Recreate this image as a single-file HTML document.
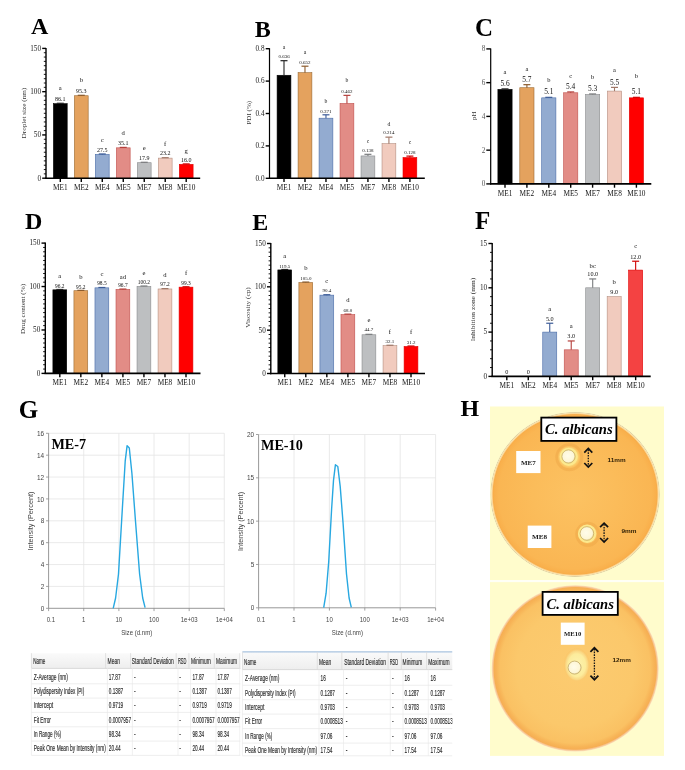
<!DOCTYPE html><html><head><meta charset="utf-8"><style>html,body{margin:0;padding:0;background:#fff;}svg{display:block;filter:blur(0.3px);}</style></head><body>
<svg width="685" height="770" viewBox="0 0 685 770">
<rect width="685" height="770" fill="#fff"/>
<text x="31.00" y="33.80" font-size="24" text-anchor="start" font-family='"Liberation Serif", serif' fill="#000" font-weight="bold">A</text>
<text x="254.80" y="36.50" font-size="24" text-anchor="start" font-family='"Liberation Serif", serif' fill="#000" font-weight="bold">B</text>
<text x="475.00" y="35.60" font-size="25" text-anchor="start" font-family='"Liberation Serif", serif' fill="#000" font-weight="bold">C</text>
<text x="25.00" y="229.20" font-size="24" text-anchor="start" font-family='"Liberation Serif", serif' fill="#000" font-weight="bold">D</text>
<text x="252.20" y="229.60" font-size="24" text-anchor="start" font-family='"Liberation Serif", serif' fill="#000" font-weight="bold">E</text>
<text x="475.00" y="229.30" font-size="25" text-anchor="start" font-family='"Liberation Serif", serif' fill="#000" font-weight="bold">F</text>
<text x="18.80" y="417.70" font-size="25" text-anchor="start" font-family='"Liberation Serif", serif' fill="#000" font-weight="bold">G</text>
<text x="460.40" y="415.90" font-size="24" text-anchor="start" font-family='"Liberation Serif", serif' fill="#000" font-weight="bold">H</text>
<rect x="53.40" y="103.69" width="13.80" height="74.51" fill="#000000" stroke="#000000" stroke-width="0.6"/>
<rect x="74.38" y="95.73" width="13.80" height="82.47" fill="#E4A25E" stroke="#9A6A33" stroke-width="0.6"/>
<rect x="95.37" y="154.40" width="13.80" height="23.80" fill="#93ABD0" stroke="#4A6CA8" stroke-width="0.6"/>
<rect x="116.35" y="147.83" width="13.80" height="30.37" fill="#E28C86" stroke="#C0504D" stroke-width="0.6"/>
<rect x="137.33" y="162.71" width="13.80" height="15.49" fill="#BDBFC1" stroke="#8A8C8E" stroke-width="0.6"/>
<rect x="158.32" y="158.12" width="13.80" height="20.08" fill="#F1CBBE" stroke="#B58F80" stroke-width="0.6"/>
<rect x="179.30" y="164.35" width="13.80" height="13.85" fill="#FF0000" stroke="#E00000" stroke-width="0.6"/>
<line x1="60.30" y1="103.69" x2="60.30" y2="103.26" stroke="#222222" stroke-width="1.1"/>
<line x1="56.80" y1="103.26" x2="63.80" y2="103.26" stroke="#222222" stroke-width="1.2"/>
<line x1="81.28" y1="95.73" x2="81.28" y2="95.30" stroke="#8B5A2B" stroke-width="1.1"/>
<line x1="77.78" y1="95.30" x2="84.78" y2="95.30" stroke="#8B5A2B" stroke-width="1.2"/>
<line x1="102.27" y1="154.40" x2="102.27" y2="153.97" stroke="#3B5B98" stroke-width="1.1"/>
<line x1="98.77" y1="153.97" x2="105.77" y2="153.97" stroke="#3B5B98" stroke-width="1.2"/>
<line x1="123.25" y1="147.83" x2="123.25" y2="147.39" stroke="#B5403C" stroke-width="1.1"/>
<line x1="119.75" y1="147.39" x2="126.75" y2="147.39" stroke="#B5403C" stroke-width="1.2"/>
<line x1="144.23" y1="162.71" x2="144.23" y2="162.28" stroke="#7A7C7E" stroke-width="1.1"/>
<line x1="140.73" y1="162.28" x2="147.73" y2="162.28" stroke="#7A7C7E" stroke-width="1.2"/>
<line x1="165.22" y1="158.12" x2="165.22" y2="157.69" stroke="#A07868" stroke-width="1.1"/>
<line x1="161.72" y1="157.69" x2="168.72" y2="157.69" stroke="#A07868" stroke-width="1.2"/>
<line x1="186.20" y1="164.35" x2="186.20" y2="163.92" stroke="#D00000" stroke-width="1.1"/>
<line x1="182.70" y1="163.92" x2="189.70" y2="163.92" stroke="#D00000" stroke-width="1.2"/>
<line x1="46.00" y1="47.90" x2="46.00" y2="178.90" stroke="#000" stroke-width="1.4"/>
<line x1="45.30" y1="178.20" x2="200.20" y2="178.20" stroke="#000" stroke-width="1.6"/>
<line x1="42.20" y1="178.20" x2="46.00" y2="178.20" stroke="#000" stroke-width="1.4"/>
<text x="41.00" y="180.58" font-size="7.2" text-anchor="end" font-family='"Liberation Serif", serif' fill="#222">0</text>
<line x1="42.20" y1="134.93" x2="46.00" y2="134.93" stroke="#000" stroke-width="1.4"/>
<text x="41.00" y="137.31" font-size="7.2" text-anchor="end" font-family='"Liberation Serif", serif' fill="#222">50</text>
<line x1="42.20" y1="91.67" x2="46.00" y2="91.67" stroke="#000" stroke-width="1.4"/>
<text x="41.00" y="94.04" font-size="7.2" text-anchor="end" font-family='"Liberation Serif", serif' fill="#222">100</text>
<line x1="42.20" y1="48.40" x2="46.00" y2="48.40" stroke="#000" stroke-width="1.4"/>
<text x="41.00" y="50.78" font-size="7.2" text-anchor="end" font-family='"Liberation Serif", serif' fill="#222">150</text>
<line x1="43.80" y1="173.87" x2="46.00" y2="173.87" stroke="#000" stroke-width="0.9"/>
<line x1="43.80" y1="169.55" x2="46.00" y2="169.55" stroke="#000" stroke-width="0.9"/>
<line x1="43.80" y1="165.22" x2="46.00" y2="165.22" stroke="#000" stroke-width="0.9"/>
<line x1="43.80" y1="160.89" x2="46.00" y2="160.89" stroke="#000" stroke-width="0.9"/>
<line x1="43.80" y1="156.57" x2="46.00" y2="156.57" stroke="#000" stroke-width="0.9"/>
<line x1="43.80" y1="152.24" x2="46.00" y2="152.24" stroke="#000" stroke-width="0.9"/>
<line x1="43.80" y1="147.91" x2="46.00" y2="147.91" stroke="#000" stroke-width="0.9"/>
<line x1="43.80" y1="143.59" x2="46.00" y2="143.59" stroke="#000" stroke-width="0.9"/>
<line x1="43.80" y1="139.26" x2="46.00" y2="139.26" stroke="#000" stroke-width="0.9"/>
<line x1="43.80" y1="130.61" x2="46.00" y2="130.61" stroke="#000" stroke-width="0.9"/>
<line x1="43.80" y1="126.28" x2="46.00" y2="126.28" stroke="#000" stroke-width="0.9"/>
<line x1="43.80" y1="121.95" x2="46.00" y2="121.95" stroke="#000" stroke-width="0.9"/>
<line x1="43.80" y1="117.63" x2="46.00" y2="117.63" stroke="#000" stroke-width="0.9"/>
<line x1="43.80" y1="113.30" x2="46.00" y2="113.30" stroke="#000" stroke-width="0.9"/>
<line x1="43.80" y1="108.97" x2="46.00" y2="108.97" stroke="#000" stroke-width="0.9"/>
<line x1="43.80" y1="104.65" x2="46.00" y2="104.65" stroke="#000" stroke-width="0.9"/>
<line x1="43.80" y1="100.32" x2="46.00" y2="100.32" stroke="#000" stroke-width="0.9"/>
<line x1="43.80" y1="95.99" x2="46.00" y2="95.99" stroke="#000" stroke-width="0.9"/>
<line x1="43.80" y1="87.34" x2="46.00" y2="87.34" stroke="#000" stroke-width="0.9"/>
<line x1="43.80" y1="83.01" x2="46.00" y2="83.01" stroke="#000" stroke-width="0.9"/>
<line x1="43.80" y1="78.69" x2="46.00" y2="78.69" stroke="#000" stroke-width="0.9"/>
<line x1="43.80" y1="74.36" x2="46.00" y2="74.36" stroke="#000" stroke-width="0.9"/>
<line x1="43.80" y1="70.03" x2="46.00" y2="70.03" stroke="#000" stroke-width="0.9"/>
<line x1="43.80" y1="65.71" x2="46.00" y2="65.71" stroke="#000" stroke-width="0.9"/>
<line x1="43.80" y1="61.38" x2="46.00" y2="61.38" stroke="#000" stroke-width="0.9"/>
<line x1="43.80" y1="57.05" x2="46.00" y2="57.05" stroke="#000" stroke-width="0.9"/>
<line x1="43.80" y1="52.73" x2="46.00" y2="52.73" stroke="#000" stroke-width="0.9"/>
<line x1="60.30" y1="178.20" x2="60.30" y2="182.00" stroke="#000" stroke-width="1.4"/>
<text x="60.30" y="190.00" font-size="7.3" text-anchor="middle" font-family='"Liberation Serif", serif' fill="#111">ME1</text>
<line x1="81.28" y1="178.20" x2="81.28" y2="182.00" stroke="#000" stroke-width="1.4"/>
<text x="81.28" y="190.00" font-size="7.3" text-anchor="middle" font-family='"Liberation Serif", serif' fill="#111">ME2</text>
<line x1="102.27" y1="178.20" x2="102.27" y2="182.00" stroke="#000" stroke-width="1.4"/>
<text x="102.27" y="190.00" font-size="7.3" text-anchor="middle" font-family='"Liberation Serif", serif' fill="#111">ME4</text>
<line x1="123.25" y1="178.20" x2="123.25" y2="182.00" stroke="#000" stroke-width="1.4"/>
<text x="123.25" y="190.00" font-size="7.3" text-anchor="middle" font-family='"Liberation Serif", serif' fill="#111">ME5</text>
<line x1="144.23" y1="178.20" x2="144.23" y2="182.00" stroke="#000" stroke-width="1.4"/>
<text x="144.23" y="190.00" font-size="7.3" text-anchor="middle" font-family='"Liberation Serif", serif' fill="#111">ME7</text>
<line x1="165.22" y1="178.20" x2="165.22" y2="182.00" stroke="#000" stroke-width="1.4"/>
<text x="165.22" y="190.00" font-size="7.3" text-anchor="middle" font-family='"Liberation Serif", serif' fill="#111">ME8</text>
<line x1="186.20" y1="178.20" x2="186.20" y2="182.00" stroke="#000" stroke-width="1.4"/>
<text x="186.20" y="190.00" font-size="7.3" text-anchor="middle" font-family='"Liberation Serif", serif' fill="#111">ME10</text>
<text x="60.30" y="101.24" font-size="6.0" text-anchor="middle" font-family='"Liberation Serif", serif' fill="#111">86.1</text>
<text x="60.30" y="90.05" font-size="6.6" text-anchor="middle" font-family='"Liberation Serif", serif' fill="#111">a</text>
<text x="81.28" y="92.84" font-size="6.0" text-anchor="middle" font-family='"Liberation Serif", serif' fill="#111">95.3</text>
<text x="81.28" y="81.95" font-size="6.6" text-anchor="middle" font-family='"Liberation Serif", serif' fill="#111">b</text>
<text x="102.27" y="151.94" font-size="6.0" text-anchor="middle" font-family='"Liberation Serif", serif' fill="#111">27.5</text>
<text x="102.27" y="142.15" font-size="6.6" text-anchor="middle" font-family='"Liberation Serif", serif' fill="#111">c</text>
<text x="123.25" y="144.94" font-size="6.0" text-anchor="middle" font-family='"Liberation Serif", serif' fill="#111">35.1</text>
<text x="123.25" y="134.65" font-size="6.6" text-anchor="middle" font-family='"Liberation Serif", serif' fill="#111">d</text>
<text x="144.23" y="160.04" font-size="6.0" text-anchor="middle" font-family='"Liberation Serif", serif' fill="#111">17.9</text>
<text x="144.23" y="150.05" font-size="6.6" text-anchor="middle" font-family='"Liberation Serif", serif' fill="#111">e</text>
<text x="165.22" y="155.24" font-size="6.0" text-anchor="middle" font-family='"Liberation Serif", serif' fill="#111">23.2</text>
<text x="165.22" y="146.05" font-size="6.6" text-anchor="middle" font-family='"Liberation Serif", serif' fill="#111">f</text>
<text x="186.20" y="161.84" font-size="6.0" text-anchor="middle" font-family='"Liberation Serif", serif' fill="#111">16.0</text>
<text x="186.20" y="152.65" font-size="6.6" text-anchor="middle" font-family='"Liberation Serif", serif' fill="#111">g</text>
<text transform="translate(24.00,113.10) rotate(-90)" x="0" y="2.10" font-size="7.0" text-anchor="middle" font-family='"Liberation Serif", serif' fill="#333" textLength="50.6" lengthAdjust="spacingAndGlyphs">Droplet size (nm)</text>
<rect x="277.10" y="75.27" width="13.80" height="103.03" fill="#000000" stroke="#000000" stroke-width="0.6"/>
<rect x="298.08" y="72.68" width="13.80" height="105.62" fill="#E4A25E" stroke="#9A6A33" stroke-width="0.6"/>
<rect x="319.07" y="118.20" width="13.80" height="60.10" fill="#93ABD0" stroke="#4A6CA8" stroke-width="0.6"/>
<rect x="340.05" y="103.46" width="13.80" height="74.84" fill="#E28C86" stroke="#C0504D" stroke-width="0.6"/>
<rect x="361.03" y="155.94" width="13.80" height="22.36" fill="#BDBFC1" stroke="#8A8C8E" stroke-width="0.6"/>
<rect x="382.02" y="143.63" width="13.80" height="34.67" fill="#F1CBBE" stroke="#B58F80" stroke-width="0.6"/>
<rect x="403.00" y="157.56" width="13.80" height="20.74" fill="#FF0000" stroke="#E00000" stroke-width="0.6"/>
<line x1="284.00" y1="75.27" x2="284.00" y2="60.69" stroke="#222222" stroke-width="1.1"/>
<line x1="280.50" y1="60.69" x2="287.50" y2="60.69" stroke="#222222" stroke-width="1.2"/>
<line x1="304.98" y1="72.68" x2="304.98" y2="66.20" stroke="#8B5A2B" stroke-width="1.1"/>
<line x1="301.48" y1="66.20" x2="308.48" y2="66.20" stroke="#8B5A2B" stroke-width="1.2"/>
<line x1="325.97" y1="118.20" x2="325.97" y2="114.80" stroke="#3B5B98" stroke-width="1.1"/>
<line x1="322.47" y1="114.80" x2="329.47" y2="114.80" stroke="#3B5B98" stroke-width="1.2"/>
<line x1="346.95" y1="103.46" x2="346.95" y2="95.36" stroke="#B5403C" stroke-width="1.1"/>
<line x1="343.45" y1="95.36" x2="350.45" y2="95.36" stroke="#B5403C" stroke-width="1.2"/>
<line x1="367.93" y1="155.94" x2="367.93" y2="154.32" stroke="#7A7C7E" stroke-width="1.1"/>
<line x1="364.43" y1="154.32" x2="371.43" y2="154.32" stroke="#7A7C7E" stroke-width="1.2"/>
<line x1="388.92" y1="143.63" x2="388.92" y2="137.15" stroke="#A07868" stroke-width="1.1"/>
<line x1="385.42" y1="137.15" x2="392.42" y2="137.15" stroke="#A07868" stroke-width="1.2"/>
<line x1="409.90" y1="157.56" x2="409.90" y2="156.11" stroke="#D00000" stroke-width="1.1"/>
<line x1="406.40" y1="156.11" x2="413.40" y2="156.11" stroke="#D00000" stroke-width="1.2"/>
<line x1="269.50" y1="48.20" x2="269.50" y2="178.90" stroke="#000" stroke-width="1.2"/>
<line x1="268.90" y1="178.30" x2="424.80" y2="178.30" stroke="#000" stroke-width="1.6"/>
<line x1="265.70" y1="178.30" x2="269.50" y2="178.30" stroke="#000" stroke-width="1.4"/>
<text x="264.50" y="180.68" font-size="7.2" text-anchor="end" font-family='"Liberation Serif", serif' fill="#222">0.0</text>
<line x1="265.70" y1="145.90" x2="269.50" y2="145.90" stroke="#000" stroke-width="1.4"/>
<text x="264.50" y="148.28" font-size="7.2" text-anchor="end" font-family='"Liberation Serif", serif' fill="#222">0.2</text>
<line x1="265.70" y1="113.50" x2="269.50" y2="113.50" stroke="#000" stroke-width="1.4"/>
<text x="264.50" y="115.88" font-size="7.2" text-anchor="end" font-family='"Liberation Serif", serif' fill="#222">0.4</text>
<line x1="265.70" y1="81.10" x2="269.50" y2="81.10" stroke="#000" stroke-width="1.4"/>
<text x="264.50" y="83.48" font-size="7.2" text-anchor="end" font-family='"Liberation Serif", serif' fill="#222">0.6</text>
<line x1="265.70" y1="48.70" x2="269.50" y2="48.70" stroke="#000" stroke-width="1.4"/>
<text x="264.50" y="51.08" font-size="7.2" text-anchor="end" font-family='"Liberation Serif", serif' fill="#222">0.8</text>
<line x1="284.00" y1="178.30" x2="284.00" y2="182.10" stroke="#000" stroke-width="1.4"/>
<text x="284.00" y="190.00" font-size="7.3" text-anchor="middle" font-family='"Liberation Serif", serif' fill="#111">ME1</text>
<line x1="304.98" y1="178.30" x2="304.98" y2="182.10" stroke="#000" stroke-width="1.4"/>
<text x="304.98" y="190.00" font-size="7.3" text-anchor="middle" font-family='"Liberation Serif", serif' fill="#111">ME2</text>
<line x1="325.97" y1="178.30" x2="325.97" y2="182.10" stroke="#000" stroke-width="1.4"/>
<text x="325.97" y="190.00" font-size="7.3" text-anchor="middle" font-family='"Liberation Serif", serif' fill="#111">ME4</text>
<line x1="346.95" y1="178.30" x2="346.95" y2="182.10" stroke="#000" stroke-width="1.4"/>
<text x="346.95" y="190.00" font-size="7.3" text-anchor="middle" font-family='"Liberation Serif", serif' fill="#111">ME5</text>
<line x1="367.93" y1="178.30" x2="367.93" y2="182.10" stroke="#000" stroke-width="1.4"/>
<text x="367.93" y="190.00" font-size="7.3" text-anchor="middle" font-family='"Liberation Serif", serif' fill="#111">ME7</text>
<line x1="388.92" y1="178.30" x2="388.92" y2="182.10" stroke="#000" stroke-width="1.4"/>
<text x="388.92" y="190.00" font-size="7.3" text-anchor="middle" font-family='"Liberation Serif", serif' fill="#111">ME8</text>
<line x1="409.90" y1="178.30" x2="409.90" y2="182.10" stroke="#000" stroke-width="1.4"/>
<text x="409.90" y="190.00" font-size="7.3" text-anchor="middle" font-family='"Liberation Serif", serif' fill="#111">ME10</text>
<text x="284.00" y="58.10" font-size="5.0" text-anchor="middle" font-family='"Liberation Serif", serif' fill="#111">0.636</text>
<text x="284.00" y="48.60" font-size="5.6" text-anchor="middle" font-family='"Liberation Serif", serif' fill="#111">a</text>
<text x="304.98" y="63.70" font-size="5.0" text-anchor="middle" font-family='"Liberation Serif", serif' fill="#111">0.652</text>
<text x="304.98" y="53.90" font-size="5.6" text-anchor="middle" font-family='"Liberation Serif", serif' fill="#111">a</text>
<text x="325.97" y="112.50" font-size="5.0" text-anchor="middle" font-family='"Liberation Serif", serif' fill="#111">0.371</text>
<text x="325.97" y="102.60" font-size="5.6" text-anchor="middle" font-family='"Liberation Serif", serif' fill="#111">b</text>
<text x="346.95" y="92.70" font-size="5.0" text-anchor="middle" font-family='"Liberation Serif", serif' fill="#111">0.462</text>
<text x="346.95" y="82.30" font-size="5.6" text-anchor="middle" font-family='"Liberation Serif", serif' fill="#111">b</text>
<text x="367.93" y="151.90" font-size="5.0" text-anchor="middle" font-family='"Liberation Serif", serif' fill="#111">0.138</text>
<text x="367.93" y="142.90" font-size="5.6" text-anchor="middle" font-family='"Liberation Serif", serif' fill="#111">c</text>
<text x="388.92" y="134.40" font-size="5.0" text-anchor="middle" font-family='"Liberation Serif", serif' fill="#111">0.214</text>
<text x="388.92" y="126.10" font-size="5.6" text-anchor="middle" font-family='"Liberation Serif", serif' fill="#111">d</text>
<text x="409.90" y="153.70" font-size="5.0" text-anchor="middle" font-family='"Liberation Serif", serif' fill="#111">0.128</text>
<text x="409.90" y="143.60" font-size="5.6" text-anchor="middle" font-family='"Liberation Serif", serif' fill="#111">c</text>
<text transform="translate(249.00,112.70) rotate(-90)" x="0" y="2.10" font-size="7.0" text-anchor="middle" font-family='"Liberation Serif", serif' fill="#333" textLength="23.8" lengthAdjust="spacingAndGlyphs">PDI (%)</text>
<rect x="497.90" y="89.40" width="14.20" height="94.50" fill="#000000" stroke="#000000" stroke-width="0.6"/>
<rect x="519.80" y="87.71" width="14.20" height="96.19" fill="#E4A25E" stroke="#9A6A33" stroke-width="0.6"/>
<rect x="541.70" y="97.84" width="14.20" height="86.06" fill="#93ABD0" stroke="#4A6CA8" stroke-width="0.6"/>
<rect x="563.60" y="92.78" width="14.20" height="91.12" fill="#E28C86" stroke="#C0504D" stroke-width="0.6"/>
<rect x="585.50" y="94.46" width="14.20" height="89.44" fill="#BDBFC1" stroke="#8A8C8E" stroke-width="0.6"/>
<rect x="607.40" y="91.09" width="14.20" height="92.81" fill="#F1CBBE" stroke="#B58F80" stroke-width="0.6"/>
<rect x="629.30" y="97.84" width="14.20" height="86.06" fill="#FF0000" stroke="#E00000" stroke-width="0.6"/>
<line x1="505.00" y1="89.40" x2="505.00" y2="88.89" stroke="#222222" stroke-width="1.1"/>
<line x1="501.50" y1="88.89" x2="508.50" y2="88.89" stroke="#222222" stroke-width="1.2"/>
<line x1="526.90" y1="87.71" x2="526.90" y2="84.68" stroke="#8B5A2B" stroke-width="1.1"/>
<line x1="523.40" y1="84.68" x2="530.40" y2="84.68" stroke="#8B5A2B" stroke-width="1.2"/>
<line x1="548.80" y1="97.84" x2="548.80" y2="97.33" stroke="#3B5B98" stroke-width="1.1"/>
<line x1="545.30" y1="97.33" x2="552.30" y2="97.33" stroke="#3B5B98" stroke-width="1.2"/>
<line x1="570.70" y1="92.78" x2="570.70" y2="91.93" stroke="#B5403C" stroke-width="1.1"/>
<line x1="567.20" y1="91.93" x2="574.20" y2="91.93" stroke="#B5403C" stroke-width="1.2"/>
<line x1="592.60" y1="94.46" x2="592.60" y2="93.96" stroke="#7A7C7E" stroke-width="1.1"/>
<line x1="589.10" y1="93.96" x2="596.10" y2="93.96" stroke="#7A7C7E" stroke-width="1.2"/>
<line x1="614.50" y1="91.09" x2="614.50" y2="87.38" stroke="#A07868" stroke-width="1.1"/>
<line x1="611.00" y1="87.38" x2="618.00" y2="87.38" stroke="#A07868" stroke-width="1.2"/>
<line x1="636.40" y1="97.84" x2="636.40" y2="97.33" stroke="#D00000" stroke-width="1.1"/>
<line x1="632.90" y1="97.33" x2="639.90" y2="97.33" stroke="#D00000" stroke-width="1.2"/>
<line x1="490.70" y1="48.40" x2="490.70" y2="184.50" stroke="#000" stroke-width="1.2"/>
<line x1="490.10" y1="183.90" x2="651.30" y2="183.90" stroke="#000" stroke-width="1.6"/>
<line x1="486.30" y1="183.90" x2="490.70" y2="183.90" stroke="#000" stroke-width="1.4"/>
<text x="485.30" y="186.28" font-size="7.2" text-anchor="end" font-family='"Liberation Serif", serif' fill="#555">0</text>
<line x1="486.30" y1="150.15" x2="490.70" y2="150.15" stroke="#000" stroke-width="1.4"/>
<text x="485.30" y="152.53" font-size="7.2" text-anchor="end" font-family='"Liberation Serif", serif' fill="#555">2</text>
<line x1="486.30" y1="116.40" x2="490.70" y2="116.40" stroke="#000" stroke-width="1.4"/>
<text x="485.30" y="118.78" font-size="7.2" text-anchor="end" font-family='"Liberation Serif", serif' fill="#555">4</text>
<line x1="486.30" y1="82.65" x2="490.70" y2="82.65" stroke="#000" stroke-width="1.4"/>
<text x="485.30" y="85.03" font-size="7.2" text-anchor="end" font-family='"Liberation Serif", serif' fill="#555">6</text>
<line x1="486.30" y1="48.90" x2="490.70" y2="48.90" stroke="#000" stroke-width="1.4"/>
<text x="485.30" y="51.28" font-size="7.2" text-anchor="end" font-family='"Liberation Serif", serif' fill="#555">8</text>
<line x1="505.00" y1="183.90" x2="505.00" y2="187.70" stroke="#000" stroke-width="1.4"/>
<text x="505.00" y="195.60" font-size="7.3" text-anchor="middle" font-family='"Liberation Serif", serif' fill="#111">ME1</text>
<line x1="526.90" y1="183.90" x2="526.90" y2="187.70" stroke="#000" stroke-width="1.4"/>
<text x="526.90" y="195.60" font-size="7.3" text-anchor="middle" font-family='"Liberation Serif", serif' fill="#111">ME2</text>
<line x1="548.80" y1="183.90" x2="548.80" y2="187.70" stroke="#000" stroke-width="1.4"/>
<text x="548.80" y="195.60" font-size="7.3" text-anchor="middle" font-family='"Liberation Serif", serif' fill="#111">ME4</text>
<line x1="570.70" y1="183.90" x2="570.70" y2="187.70" stroke="#000" stroke-width="1.4"/>
<text x="570.70" y="195.60" font-size="7.3" text-anchor="middle" font-family='"Liberation Serif", serif' fill="#111">ME5</text>
<line x1="592.60" y1="183.90" x2="592.60" y2="187.70" stroke="#000" stroke-width="1.4"/>
<text x="592.60" y="195.60" font-size="7.3" text-anchor="middle" font-family='"Liberation Serif", serif' fill="#111">ME7</text>
<line x1="614.50" y1="183.90" x2="614.50" y2="187.70" stroke="#000" stroke-width="1.4"/>
<text x="614.50" y="195.60" font-size="7.3" text-anchor="middle" font-family='"Liberation Serif", serif' fill="#111">ME8</text>
<line x1="636.40" y1="183.90" x2="636.40" y2="187.70" stroke="#000" stroke-width="1.4"/>
<text x="636.40" y="195.60" font-size="7.3" text-anchor="middle" font-family='"Liberation Serif", serif' fill="#111">ME10</text>
<text x="505.00" y="86.12" font-size="7.4" text-anchor="middle" font-family='"Liberation Serif", serif' fill="#111">5.6</text>
<text x="505.00" y="74.20" font-size="6.4" text-anchor="middle" font-family='"Liberation Serif", serif' fill="#111">a</text>
<text x="526.90" y="82.42" font-size="7.4" text-anchor="middle" font-family='"Liberation Serif", serif' fill="#111">5.7</text>
<text x="526.90" y="71.10" font-size="6.4" text-anchor="middle" font-family='"Liberation Serif", serif' fill="#111">a</text>
<text x="548.80" y="94.42" font-size="7.4" text-anchor="middle" font-family='"Liberation Serif", serif' fill="#111">5.1</text>
<text x="548.80" y="81.70" font-size="6.4" text-anchor="middle" font-family='"Liberation Serif", serif' fill="#111">b</text>
<text x="570.70" y="88.82" font-size="7.4" text-anchor="middle" font-family='"Liberation Serif", serif' fill="#111">5.4</text>
<text x="570.70" y="77.90" font-size="6.4" text-anchor="middle" font-family='"Liberation Serif", serif' fill="#111">c</text>
<text x="592.60" y="91.32" font-size="7.4" text-anchor="middle" font-family='"Liberation Serif", serif' fill="#111">5.3</text>
<text x="592.60" y="79.00" font-size="6.4" text-anchor="middle" font-family='"Liberation Serif", serif' fill="#111">b</text>
<text x="614.50" y="84.62" font-size="7.4" text-anchor="middle" font-family='"Liberation Serif", serif' fill="#111">5.5</text>
<text x="614.50" y="72.30" font-size="6.4" text-anchor="middle" font-family='"Liberation Serif", serif' fill="#111">a</text>
<text x="636.40" y="94.42" font-size="7.4" text-anchor="middle" font-family='"Liberation Serif", serif' fill="#111">5.1</text>
<text x="636.40" y="77.90" font-size="6.4" text-anchor="middle" font-family='"Liberation Serif", serif' fill="#111">b</text>
<text transform="translate(474.30,115.80) rotate(-90)" x="0" y="2.10" font-size="7.0" text-anchor="middle" font-family='"Liberation Serif", serif' fill="#333" textLength="8.5" lengthAdjust="spacingAndGlyphs">pH</text>
<rect x="52.90" y="289.83" width="13.80" height="83.57" fill="#000000" stroke="#000000" stroke-width="0.6"/>
<rect x="73.93" y="290.70" width="13.80" height="82.70" fill="#E4A25E" stroke="#9A6A33" stroke-width="0.6"/>
<rect x="94.97" y="287.84" width="13.80" height="85.56" fill="#93ABD0" stroke="#4A6CA8" stroke-width="0.6"/>
<rect x="116.00" y="289.40" width="13.80" height="84.00" fill="#E28C86" stroke="#C0504D" stroke-width="0.6"/>
<rect x="137.03" y="286.36" width="13.80" height="87.04" fill="#BDBFC1" stroke="#8A8C8E" stroke-width="0.6"/>
<rect x="158.07" y="288.97" width="13.80" height="84.43" fill="#F1CBBE" stroke="#B58F80" stroke-width="0.6"/>
<rect x="179.10" y="287.14" width="13.80" height="86.26" fill="#FF0000" stroke="#E00000" stroke-width="0.6"/>
<line x1="59.80" y1="289.83" x2="59.80" y2="289.49" stroke="#222222" stroke-width="1.1"/>
<line x1="56.30" y1="289.49" x2="63.30" y2="289.49" stroke="#222222" stroke-width="1.2"/>
<line x1="80.83" y1="290.70" x2="80.83" y2="290.36" stroke="#8B5A2B" stroke-width="1.1"/>
<line x1="77.33" y1="290.36" x2="84.33" y2="290.36" stroke="#8B5A2B" stroke-width="1.2"/>
<line x1="101.87" y1="287.84" x2="101.87" y2="287.49" stroke="#3B5B98" stroke-width="1.1"/>
<line x1="98.37" y1="287.49" x2="105.37" y2="287.49" stroke="#3B5B98" stroke-width="1.2"/>
<line x1="122.90" y1="289.40" x2="122.90" y2="289.05" stroke="#B5403C" stroke-width="1.1"/>
<line x1="119.40" y1="289.05" x2="126.40" y2="289.05" stroke="#B5403C" stroke-width="1.2"/>
<line x1="143.93" y1="286.36" x2="143.93" y2="286.01" stroke="#7A7C7E" stroke-width="1.1"/>
<line x1="140.43" y1="286.01" x2="147.43" y2="286.01" stroke="#7A7C7E" stroke-width="1.2"/>
<line x1="164.97" y1="288.97" x2="164.97" y2="288.62" stroke="#A07868" stroke-width="1.1"/>
<line x1="161.47" y1="288.62" x2="168.47" y2="288.62" stroke="#A07868" stroke-width="1.2"/>
<line x1="186.00" y1="287.14" x2="186.00" y2="286.79" stroke="#D00000" stroke-width="1.1"/>
<line x1="182.50" y1="286.79" x2="189.50" y2="286.79" stroke="#D00000" stroke-width="1.2"/>
<line x1="45.30" y1="242.60" x2="45.30" y2="374.10" stroke="#000" stroke-width="1.4"/>
<line x1="44.60" y1="373.40" x2="200.50" y2="373.40" stroke="#000" stroke-width="1.6"/>
<line x1="41.50" y1="373.40" x2="45.30" y2="373.40" stroke="#000" stroke-width="1.4"/>
<text x="40.30" y="375.78" font-size="7.2" text-anchor="end" font-family='"Liberation Serif", serif' fill="#222">0</text>
<line x1="41.50" y1="329.97" x2="45.30" y2="329.97" stroke="#000" stroke-width="1.4"/>
<text x="40.30" y="332.34" font-size="7.2" text-anchor="end" font-family='"Liberation Serif", serif' fill="#222">50</text>
<line x1="41.50" y1="286.53" x2="45.30" y2="286.53" stroke="#000" stroke-width="1.4"/>
<text x="40.30" y="288.91" font-size="7.2" text-anchor="end" font-family='"Liberation Serif", serif' fill="#222">100</text>
<line x1="41.50" y1="243.10" x2="45.30" y2="243.10" stroke="#000" stroke-width="1.4"/>
<text x="40.30" y="245.48" font-size="7.2" text-anchor="end" font-family='"Liberation Serif", serif' fill="#222">150</text>
<line x1="43.10" y1="369.06" x2="45.30" y2="369.06" stroke="#000" stroke-width="0.9"/>
<line x1="43.10" y1="364.71" x2="45.30" y2="364.71" stroke="#000" stroke-width="0.9"/>
<line x1="43.10" y1="360.37" x2="45.30" y2="360.37" stroke="#000" stroke-width="0.9"/>
<line x1="43.10" y1="356.03" x2="45.30" y2="356.03" stroke="#000" stroke-width="0.9"/>
<line x1="43.10" y1="351.68" x2="45.30" y2="351.68" stroke="#000" stroke-width="0.9"/>
<line x1="43.10" y1="347.34" x2="45.30" y2="347.34" stroke="#000" stroke-width="0.9"/>
<line x1="43.10" y1="343.00" x2="45.30" y2="343.00" stroke="#000" stroke-width="0.9"/>
<line x1="43.10" y1="338.65" x2="45.30" y2="338.65" stroke="#000" stroke-width="0.9"/>
<line x1="43.10" y1="334.31" x2="45.30" y2="334.31" stroke="#000" stroke-width="0.9"/>
<line x1="43.10" y1="325.62" x2="45.30" y2="325.62" stroke="#000" stroke-width="0.9"/>
<line x1="43.10" y1="321.28" x2="45.30" y2="321.28" stroke="#000" stroke-width="0.9"/>
<line x1="43.10" y1="316.94" x2="45.30" y2="316.94" stroke="#000" stroke-width="0.9"/>
<line x1="43.10" y1="312.59" x2="45.30" y2="312.59" stroke="#000" stroke-width="0.9"/>
<line x1="43.10" y1="308.25" x2="45.30" y2="308.25" stroke="#000" stroke-width="0.9"/>
<line x1="43.10" y1="303.91" x2="45.30" y2="303.91" stroke="#000" stroke-width="0.9"/>
<line x1="43.10" y1="299.56" x2="45.30" y2="299.56" stroke="#000" stroke-width="0.9"/>
<line x1="43.10" y1="295.22" x2="45.30" y2="295.22" stroke="#000" stroke-width="0.9"/>
<line x1="43.10" y1="290.88" x2="45.30" y2="290.88" stroke="#000" stroke-width="0.9"/>
<line x1="43.10" y1="282.19" x2="45.30" y2="282.19" stroke="#000" stroke-width="0.9"/>
<line x1="43.10" y1="277.85" x2="45.30" y2="277.85" stroke="#000" stroke-width="0.9"/>
<line x1="43.10" y1="273.50" x2="45.30" y2="273.50" stroke="#000" stroke-width="0.9"/>
<line x1="43.10" y1="269.16" x2="45.30" y2="269.16" stroke="#000" stroke-width="0.9"/>
<line x1="43.10" y1="264.82" x2="45.30" y2="264.82" stroke="#000" stroke-width="0.9"/>
<line x1="43.10" y1="260.47" x2="45.30" y2="260.47" stroke="#000" stroke-width="0.9"/>
<line x1="43.10" y1="256.13" x2="45.30" y2="256.13" stroke="#000" stroke-width="0.9"/>
<line x1="43.10" y1="251.79" x2="45.30" y2="251.79" stroke="#000" stroke-width="0.9"/>
<line x1="43.10" y1="247.44" x2="45.30" y2="247.44" stroke="#000" stroke-width="0.9"/>
<line x1="59.80" y1="373.40" x2="59.80" y2="377.20" stroke="#000" stroke-width="1.4"/>
<text x="59.80" y="385.30" font-size="7.3" text-anchor="middle" font-family='"Liberation Serif", serif' fill="#111">ME1</text>
<line x1="80.83" y1="373.40" x2="80.83" y2="377.20" stroke="#000" stroke-width="1.4"/>
<text x="80.83" y="385.30" font-size="7.3" text-anchor="middle" font-family='"Liberation Serif", serif' fill="#111">ME2</text>
<line x1="101.87" y1="373.40" x2="101.87" y2="377.20" stroke="#000" stroke-width="1.4"/>
<text x="101.87" y="385.30" font-size="7.3" text-anchor="middle" font-family='"Liberation Serif", serif' fill="#111">ME4</text>
<line x1="122.90" y1="373.40" x2="122.90" y2="377.20" stroke="#000" stroke-width="1.4"/>
<text x="122.90" y="385.30" font-size="7.3" text-anchor="middle" font-family='"Liberation Serif", serif' fill="#111">ME5</text>
<line x1="143.93" y1="373.40" x2="143.93" y2="377.20" stroke="#000" stroke-width="1.4"/>
<text x="143.93" y="385.30" font-size="7.3" text-anchor="middle" font-family='"Liberation Serif", serif' fill="#111">ME7</text>
<line x1="164.97" y1="373.40" x2="164.97" y2="377.20" stroke="#000" stroke-width="1.4"/>
<text x="164.97" y="385.30" font-size="7.3" text-anchor="middle" font-family='"Liberation Serif", serif' fill="#111">ME8</text>
<line x1="186.00" y1="373.40" x2="186.00" y2="377.20" stroke="#000" stroke-width="1.4"/>
<text x="186.00" y="385.30" font-size="7.3" text-anchor="middle" font-family='"Liberation Serif", serif' fill="#111">ME10</text>
<text x="59.80" y="287.74" font-size="5.4" text-anchor="middle" font-family='"Liberation Serif", serif' fill="#111">96.2</text>
<text x="59.80" y="278.15" font-size="6.6" text-anchor="middle" font-family='"Liberation Serif", serif' fill="#111">a</text>
<text x="80.83" y="288.64" font-size="5.4" text-anchor="middle" font-family='"Liberation Serif", serif' fill="#111">95.2</text>
<text x="80.83" y="279.35" font-size="6.6" text-anchor="middle" font-family='"Liberation Serif", serif' fill="#111">b</text>
<text x="101.87" y="285.44" font-size="5.4" text-anchor="middle" font-family='"Liberation Serif", serif' fill="#111">98.5</text>
<text x="101.87" y="276.35" font-size="6.6" text-anchor="middle" font-family='"Liberation Serif", serif' fill="#111">c</text>
<text x="122.90" y="287.04" font-size="5.4" text-anchor="middle" font-family='"Liberation Serif", serif' fill="#111">96.7</text>
<text x="122.90" y="278.65" font-size="6.6" text-anchor="middle" font-family='"Liberation Serif", serif' fill="#111">ad</text>
<text x="143.93" y="283.54" font-size="5.4" text-anchor="middle" font-family='"Liberation Serif", serif' fill="#111">100.2</text>
<text x="143.93" y="275.15" font-size="6.6" text-anchor="middle" font-family='"Liberation Serif", serif' fill="#111">e</text>
<text x="164.97" y="286.34" font-size="5.4" text-anchor="middle" font-family='"Liberation Serif", serif' fill="#111">97.2</text>
<text x="164.97" y="277.05" font-size="6.6" text-anchor="middle" font-family='"Liberation Serif", serif' fill="#111">d</text>
<text x="186.00" y="284.74" font-size="5.4" text-anchor="middle" font-family='"Liberation Serif", serif' fill="#111">99.3</text>
<text x="186.00" y="275.15" font-size="6.6" text-anchor="middle" font-family='"Liberation Serif", serif' fill="#111">f</text>
<text transform="translate(22.90,309.00) rotate(-90)" x="0" y="2.10" font-size="7.0" text-anchor="middle" font-family='"Liberation Serif", serif' fill="#333" textLength="50.0" lengthAdjust="spacingAndGlyphs">Drug content (%)</text>
<rect x="277.85" y="269.93" width="13.80" height="103.57" fill="#000000" stroke="#000000" stroke-width="0.6"/>
<rect x="298.89" y="282.50" width="13.80" height="91.00" fill="#E4A25E" stroke="#9A6A33" stroke-width="0.6"/>
<rect x="319.93" y="295.15" width="13.80" height="78.35" fill="#93ABD0" stroke="#4A6CA8" stroke-width="0.6"/>
<rect x="340.98" y="314.57" width="13.80" height="58.93" fill="#E28C86" stroke="#C0504D" stroke-width="0.6"/>
<rect x="362.02" y="334.76" width="13.80" height="38.74" fill="#BDBFC1" stroke="#8A8C8E" stroke-width="0.6"/>
<rect x="383.06" y="345.68" width="13.80" height="27.82" fill="#F1CBBE" stroke="#B58F80" stroke-width="0.6"/>
<rect x="404.10" y="346.46" width="13.80" height="27.04" fill="#FF0000" stroke="#E00000" stroke-width="0.6"/>
<line x1="284.75" y1="269.93" x2="284.75" y2="269.50" stroke="#222222" stroke-width="1.1"/>
<line x1="281.25" y1="269.50" x2="288.25" y2="269.50" stroke="#222222" stroke-width="1.2"/>
<line x1="305.79" y1="282.50" x2="305.79" y2="282.07" stroke="#8B5A2B" stroke-width="1.1"/>
<line x1="302.29" y1="282.07" x2="309.29" y2="282.07" stroke="#8B5A2B" stroke-width="1.2"/>
<line x1="326.83" y1="295.15" x2="326.83" y2="294.72" stroke="#3B5B98" stroke-width="1.1"/>
<line x1="323.33" y1="294.72" x2="330.33" y2="294.72" stroke="#3B5B98" stroke-width="1.2"/>
<line x1="347.88" y1="314.57" x2="347.88" y2="314.13" stroke="#B5403C" stroke-width="1.1"/>
<line x1="344.38" y1="314.13" x2="351.38" y2="314.13" stroke="#B5403C" stroke-width="1.2"/>
<line x1="368.92" y1="334.76" x2="368.92" y2="334.33" stroke="#7A7C7E" stroke-width="1.1"/>
<line x1="365.42" y1="334.33" x2="372.42" y2="334.33" stroke="#7A7C7E" stroke-width="1.2"/>
<line x1="389.96" y1="345.68" x2="389.96" y2="345.25" stroke="#A07868" stroke-width="1.1"/>
<line x1="386.46" y1="345.25" x2="393.46" y2="345.25" stroke="#A07868" stroke-width="1.2"/>
<line x1="411.00" y1="346.46" x2="411.00" y2="346.03" stroke="#D00000" stroke-width="1.1"/>
<line x1="407.50" y1="346.03" x2="414.50" y2="346.03" stroke="#D00000" stroke-width="1.2"/>
<line x1="270.80" y1="243.00" x2="270.80" y2="374.20" stroke="#000" stroke-width="1.4"/>
<line x1="270.10" y1="373.50" x2="425.00" y2="373.50" stroke="#000" stroke-width="1.6"/>
<line x1="267.00" y1="373.50" x2="270.80" y2="373.50" stroke="#000" stroke-width="1.4"/>
<text x="265.80" y="375.88" font-size="7.2" text-anchor="end" font-family='"Liberation Serif", serif' fill="#222">0</text>
<line x1="267.00" y1="330.17" x2="270.80" y2="330.17" stroke="#000" stroke-width="1.4"/>
<text x="265.80" y="332.54" font-size="7.2" text-anchor="end" font-family='"Liberation Serif", serif' fill="#222">50</text>
<line x1="267.00" y1="286.83" x2="270.80" y2="286.83" stroke="#000" stroke-width="1.4"/>
<text x="265.80" y="289.21" font-size="7.2" text-anchor="end" font-family='"Liberation Serif", serif' fill="#222">100</text>
<line x1="267.00" y1="243.50" x2="270.80" y2="243.50" stroke="#000" stroke-width="1.4"/>
<text x="265.80" y="245.88" font-size="7.2" text-anchor="end" font-family='"Liberation Serif", serif' fill="#222">150</text>
<line x1="268.60" y1="369.17" x2="270.80" y2="369.17" stroke="#000" stroke-width="0.9"/>
<line x1="268.60" y1="364.83" x2="270.80" y2="364.83" stroke="#000" stroke-width="0.9"/>
<line x1="268.60" y1="360.50" x2="270.80" y2="360.50" stroke="#000" stroke-width="0.9"/>
<line x1="268.60" y1="356.17" x2="270.80" y2="356.17" stroke="#000" stroke-width="0.9"/>
<line x1="268.60" y1="351.83" x2="270.80" y2="351.83" stroke="#000" stroke-width="0.9"/>
<line x1="268.60" y1="347.50" x2="270.80" y2="347.50" stroke="#000" stroke-width="0.9"/>
<line x1="268.60" y1="343.17" x2="270.80" y2="343.17" stroke="#000" stroke-width="0.9"/>
<line x1="268.60" y1="338.83" x2="270.80" y2="338.83" stroke="#000" stroke-width="0.9"/>
<line x1="268.60" y1="334.50" x2="270.80" y2="334.50" stroke="#000" stroke-width="0.9"/>
<line x1="268.60" y1="325.83" x2="270.80" y2="325.83" stroke="#000" stroke-width="0.9"/>
<line x1="268.60" y1="321.50" x2="270.80" y2="321.50" stroke="#000" stroke-width="0.9"/>
<line x1="268.60" y1="317.17" x2="270.80" y2="317.17" stroke="#000" stroke-width="0.9"/>
<line x1="268.60" y1="312.83" x2="270.80" y2="312.83" stroke="#000" stroke-width="0.9"/>
<line x1="268.60" y1="308.50" x2="270.80" y2="308.50" stroke="#000" stroke-width="0.9"/>
<line x1="268.60" y1="304.17" x2="270.80" y2="304.17" stroke="#000" stroke-width="0.9"/>
<line x1="268.60" y1="299.83" x2="270.80" y2="299.83" stroke="#000" stroke-width="0.9"/>
<line x1="268.60" y1="295.50" x2="270.80" y2="295.50" stroke="#000" stroke-width="0.9"/>
<line x1="268.60" y1="291.17" x2="270.80" y2="291.17" stroke="#000" stroke-width="0.9"/>
<line x1="268.60" y1="282.50" x2="270.80" y2="282.50" stroke="#000" stroke-width="0.9"/>
<line x1="268.60" y1="278.17" x2="270.80" y2="278.17" stroke="#000" stroke-width="0.9"/>
<line x1="268.60" y1="273.83" x2="270.80" y2="273.83" stroke="#000" stroke-width="0.9"/>
<line x1="268.60" y1="269.50" x2="270.80" y2="269.50" stroke="#000" stroke-width="0.9"/>
<line x1="268.60" y1="265.17" x2="270.80" y2="265.17" stroke="#000" stroke-width="0.9"/>
<line x1="268.60" y1="260.83" x2="270.80" y2="260.83" stroke="#000" stroke-width="0.9"/>
<line x1="268.60" y1="256.50" x2="270.80" y2="256.50" stroke="#000" stroke-width="0.9"/>
<line x1="268.60" y1="252.17" x2="270.80" y2="252.17" stroke="#000" stroke-width="0.9"/>
<line x1="268.60" y1="247.83" x2="270.80" y2="247.83" stroke="#000" stroke-width="0.9"/>
<line x1="284.75" y1="373.50" x2="284.75" y2="377.30" stroke="#000" stroke-width="1.4"/>
<text x="284.75" y="385.40" font-size="7.3" text-anchor="middle" font-family='"Liberation Serif", serif' fill="#111">ME1</text>
<line x1="305.79" y1="373.50" x2="305.79" y2="377.30" stroke="#000" stroke-width="1.4"/>
<text x="305.79" y="385.40" font-size="7.3" text-anchor="middle" font-family='"Liberation Serif", serif' fill="#111">ME2</text>
<line x1="326.83" y1="373.50" x2="326.83" y2="377.30" stroke="#000" stroke-width="1.4"/>
<text x="326.83" y="385.40" font-size="7.3" text-anchor="middle" font-family='"Liberation Serif", serif' fill="#111">ME4</text>
<line x1="347.88" y1="373.50" x2="347.88" y2="377.30" stroke="#000" stroke-width="1.4"/>
<text x="347.88" y="385.40" font-size="7.3" text-anchor="middle" font-family='"Liberation Serif", serif' fill="#111">ME5</text>
<line x1="368.92" y1="373.50" x2="368.92" y2="377.30" stroke="#000" stroke-width="1.4"/>
<text x="368.92" y="385.40" font-size="7.3" text-anchor="middle" font-family='"Liberation Serif", serif' fill="#111">ME7</text>
<line x1="389.96" y1="373.50" x2="389.96" y2="377.30" stroke="#000" stroke-width="1.4"/>
<text x="389.96" y="385.40" font-size="7.3" text-anchor="middle" font-family='"Liberation Serif", serif' fill="#111">ME8</text>
<line x1="411.00" y1="373.50" x2="411.00" y2="377.30" stroke="#000" stroke-width="1.4"/>
<text x="411.00" y="385.40" font-size="7.3" text-anchor="middle" font-family='"Liberation Serif", serif' fill="#111">ME10</text>
<text x="284.75" y="267.50" font-size="5.0" text-anchor="middle" font-family='"Liberation Serif", serif' fill="#111">119.5</text>
<text x="284.75" y="257.65" font-size="6.6" text-anchor="middle" font-family='"Liberation Serif", serif' fill="#111">a</text>
<text x="305.79" y="280.10" font-size="5.0" text-anchor="middle" font-family='"Liberation Serif", serif' fill="#111">105.0</text>
<text x="305.79" y="270.15" font-size="6.6" text-anchor="middle" font-family='"Liberation Serif", serif' fill="#111">b</text>
<text x="326.83" y="292.00" font-size="5.0" text-anchor="middle" font-family='"Liberation Serif", serif' fill="#111">90.4</text>
<text x="326.83" y="282.55" font-size="6.6" text-anchor="middle" font-family='"Liberation Serif", serif' fill="#111">c</text>
<text x="347.88" y="311.80" font-size="5.0" text-anchor="middle" font-family='"Liberation Serif", serif' fill="#111">68.0</text>
<text x="347.88" y="302.35" font-size="6.6" text-anchor="middle" font-family='"Liberation Serif", serif' fill="#111">d</text>
<text x="368.92" y="331.30" font-size="5.0" text-anchor="middle" font-family='"Liberation Serif", serif' fill="#111">44.7</text>
<text x="368.92" y="321.85" font-size="6.6" text-anchor="middle" font-family='"Liberation Serif", serif' fill="#111">e</text>
<text x="389.96" y="343.40" font-size="5.0" text-anchor="middle" font-family='"Liberation Serif", serif' fill="#111">32.1</text>
<text x="389.96" y="334.25" font-size="6.6" text-anchor="middle" font-family='"Liberation Serif", serif' fill="#111">f</text>
<text x="411.00" y="344.10" font-size="5.0" text-anchor="middle" font-family='"Liberation Serif", serif' fill="#111">31.2</text>
<text x="411.00" y="334.25" font-size="6.6" text-anchor="middle" font-family='"Liberation Serif", serif' fill="#111">f</text>
<text transform="translate(248.30,307.50) rotate(-90)" x="0" y="2.10" font-size="7.0" text-anchor="middle" font-family='"Liberation Serif", serif' fill="#333" textLength="40.5" lengthAdjust="spacingAndGlyphs">Viscosity (cp)</text>
<rect x="542.75" y="332.10" width="14.00" height="44.30" fill="#93ABD0" stroke="#4A6CA8" stroke-width="0.6"/>
<rect x="564.23" y="349.82" width="14.00" height="26.58" fill="#E28C86" stroke="#C0504D" stroke-width="0.6"/>
<rect x="585.70" y="287.80" width="14.00" height="88.60" fill="#BDBFC1" stroke="#8A8C8E" stroke-width="0.6"/>
<rect x="607.17" y="296.66" width="14.00" height="79.74" fill="#F1CBBE" stroke="#B58F80" stroke-width="0.6"/>
<rect x="628.65" y="270.08" width="14.00" height="106.32" fill="#F44242" stroke="#E00000" stroke-width="0.6"/>
<line x1="549.75" y1="332.10" x2="549.75" y2="323.24" stroke="#3B5B98" stroke-width="1.1"/>
<line x1="546.25" y1="323.24" x2="553.25" y2="323.24" stroke="#3B5B98" stroke-width="1.2"/>
<line x1="571.23" y1="349.82" x2="571.23" y2="340.96" stroke="#B5403C" stroke-width="1.1"/>
<line x1="567.73" y1="340.96" x2="574.73" y2="340.96" stroke="#B5403C" stroke-width="1.2"/>
<line x1="592.70" y1="287.80" x2="592.70" y2="278.94" stroke="#7A7C7E" stroke-width="1.1"/>
<line x1="589.20" y1="278.94" x2="596.20" y2="278.94" stroke="#7A7C7E" stroke-width="1.2"/>
<line x1="635.65" y1="270.08" x2="635.65" y2="261.22" stroke="#D00000" stroke-width="1.1"/>
<line x1="632.15" y1="261.22" x2="639.15" y2="261.22" stroke="#D00000" stroke-width="1.2"/>
<line x1="492.20" y1="243.00" x2="492.20" y2="377.10" stroke="#000" stroke-width="1.4"/>
<line x1="491.50" y1="376.40" x2="650.70" y2="376.40" stroke="#000" stroke-width="1.6"/>
<line x1="488.40" y1="376.40" x2="492.20" y2="376.40" stroke="#000" stroke-width="1.4"/>
<text x="487.20" y="378.78" font-size="7.2" text-anchor="end" font-family='"Liberation Serif", serif' fill="#222">0</text>
<line x1="488.40" y1="332.10" x2="492.20" y2="332.10" stroke="#000" stroke-width="1.4"/>
<text x="487.20" y="334.48" font-size="7.2" text-anchor="end" font-family='"Liberation Serif", serif' fill="#222">5</text>
<line x1="488.40" y1="287.80" x2="492.20" y2="287.80" stroke="#000" stroke-width="1.4"/>
<text x="487.20" y="290.18" font-size="7.2" text-anchor="end" font-family='"Liberation Serif", serif' fill="#222">10</text>
<line x1="488.40" y1="243.50" x2="492.20" y2="243.50" stroke="#000" stroke-width="1.4"/>
<text x="487.20" y="245.88" font-size="7.2" text-anchor="end" font-family='"Liberation Serif", serif' fill="#222">15</text>
<line x1="490.00" y1="367.54" x2="492.20" y2="367.54" stroke="#000" stroke-width="0.9"/>
<line x1="490.00" y1="358.68" x2="492.20" y2="358.68" stroke="#000" stroke-width="0.9"/>
<line x1="490.00" y1="349.82" x2="492.20" y2="349.82" stroke="#000" stroke-width="0.9"/>
<line x1="490.00" y1="340.96" x2="492.20" y2="340.96" stroke="#000" stroke-width="0.9"/>
<line x1="490.00" y1="323.24" x2="492.20" y2="323.24" stroke="#000" stroke-width="0.9"/>
<line x1="490.00" y1="314.38" x2="492.20" y2="314.38" stroke="#000" stroke-width="0.9"/>
<line x1="490.00" y1="305.52" x2="492.20" y2="305.52" stroke="#000" stroke-width="0.9"/>
<line x1="490.00" y1="296.66" x2="492.20" y2="296.66" stroke="#000" stroke-width="0.9"/>
<line x1="490.00" y1="278.94" x2="492.20" y2="278.94" stroke="#000" stroke-width="0.9"/>
<line x1="490.00" y1="270.08" x2="492.20" y2="270.08" stroke="#000" stroke-width="0.9"/>
<line x1="490.00" y1="261.22" x2="492.20" y2="261.22" stroke="#000" stroke-width="0.9"/>
<line x1="490.00" y1="252.36" x2="492.20" y2="252.36" stroke="#000" stroke-width="0.9"/>
<line x1="506.80" y1="376.40" x2="506.80" y2="380.20" stroke="#000" stroke-width="1.4"/>
<text x="506.80" y="387.60" font-size="7.3" text-anchor="middle" font-family='"Liberation Serif", serif' fill="#111">ME1</text>
<line x1="528.27" y1="376.40" x2="528.27" y2="380.20" stroke="#000" stroke-width="1.4"/>
<text x="528.27" y="387.60" font-size="7.3" text-anchor="middle" font-family='"Liberation Serif", serif' fill="#111">ME2</text>
<line x1="549.75" y1="376.40" x2="549.75" y2="380.20" stroke="#000" stroke-width="1.4"/>
<text x="549.75" y="387.60" font-size="7.3" text-anchor="middle" font-family='"Liberation Serif", serif' fill="#111">ME4</text>
<line x1="571.23" y1="376.40" x2="571.23" y2="380.20" stroke="#000" stroke-width="1.4"/>
<text x="571.23" y="387.60" font-size="7.3" text-anchor="middle" font-family='"Liberation Serif", serif' fill="#111">ME5</text>
<line x1="592.70" y1="376.40" x2="592.70" y2="380.20" stroke="#000" stroke-width="1.4"/>
<text x="592.70" y="387.60" font-size="7.3" text-anchor="middle" font-family='"Liberation Serif", serif' fill="#111">ME7</text>
<line x1="614.17" y1="376.40" x2="614.17" y2="380.20" stroke="#000" stroke-width="1.4"/>
<text x="614.17" y="387.60" font-size="7.3" text-anchor="middle" font-family='"Liberation Serif", serif' fill="#111">ME8</text>
<line x1="635.65" y1="376.40" x2="635.65" y2="380.20" stroke="#000" stroke-width="1.4"/>
<text x="635.65" y="387.60" font-size="7.3" text-anchor="middle" font-family='"Liberation Serif", serif' fill="#111">ME10</text>
<text x="506.80" y="373.51" font-size="6.2" text-anchor="middle" font-family='"Liberation Serif", serif' fill="#111">0</text>
<text x="528.27" y="373.51" font-size="6.2" text-anchor="middle" font-family='"Liberation Serif", serif' fill="#111">0</text>
<text x="549.75" y="320.51" font-size="6.2" text-anchor="middle" font-family='"Liberation Serif", serif' fill="#111">5.0</text>
<text x="549.75" y="310.65" font-size="6.6" text-anchor="middle" font-family='"Liberation Serif", serif' fill="#111">a</text>
<text x="571.23" y="338.01" font-size="6.2" text-anchor="middle" font-family='"Liberation Serif", serif' fill="#111">3.0</text>
<text x="571.23" y="327.75" font-size="6.6" text-anchor="middle" font-family='"Liberation Serif", serif' fill="#111">a</text>
<text x="592.70" y="276.11" font-size="6.2" text-anchor="middle" font-family='"Liberation Serif", serif' fill="#111">10.0</text>
<text x="592.70" y="267.55" font-size="6.6" text-anchor="middle" font-family='"Liberation Serif", serif' fill="#111">bc</text>
<text x="614.17" y="294.01" font-size="6.2" text-anchor="middle" font-family='"Liberation Serif", serif' fill="#111">9.0</text>
<text x="614.17" y="284.15" font-size="6.6" text-anchor="middle" font-family='"Liberation Serif", serif' fill="#111">b</text>
<text x="635.65" y="258.51" font-size="6.2" text-anchor="middle" font-family='"Liberation Serif", serif' fill="#111">12.0</text>
<text x="635.65" y="248.25" font-size="6.6" text-anchor="middle" font-family='"Liberation Serif", serif' fill="#111">c</text>
<text transform="translate(472.90,309.50) rotate(-90)" x="0" y="2.10" font-size="7.0" text-anchor="middle" font-family='"Liberation Serif", serif' fill="#333" textLength="63.4" lengthAdjust="spacingAndGlyphs">Inhibition zone (mm)</text>
<line x1="48.60" y1="586.42" x2="224.30" y2="586.42" stroke="#E4E4E4" stroke-width="0.8"/>
<line x1="48.60" y1="564.55" x2="224.30" y2="564.55" stroke="#E4E4E4" stroke-width="0.8"/>
<line x1="48.60" y1="542.67" x2="224.30" y2="542.67" stroke="#E4E4E4" stroke-width="0.8"/>
<line x1="48.60" y1="520.80" x2="224.30" y2="520.80" stroke="#E4E4E4" stroke-width="0.8"/>
<line x1="48.60" y1="498.92" x2="224.30" y2="498.92" stroke="#E4E4E4" stroke-width="0.8"/>
<line x1="48.60" y1="477.05" x2="224.30" y2="477.05" stroke="#E4E4E4" stroke-width="0.8"/>
<line x1="48.60" y1="455.18" x2="224.30" y2="455.18" stroke="#E4E4E4" stroke-width="0.8"/>
<line x1="48.60" y1="433.30" x2="224.30" y2="433.30" stroke="#E4E4E4" stroke-width="0.8"/>
<line x1="83.74" y1="433.30" x2="83.74" y2="608.30" stroke="#E4E4E4" stroke-width="0.8"/>
<line x1="118.88" y1="433.30" x2="118.88" y2="608.30" stroke="#E4E4E4" stroke-width="0.8"/>
<line x1="154.02" y1="433.30" x2="154.02" y2="608.30" stroke="#E4E4E4" stroke-width="0.8"/>
<line x1="189.16" y1="433.30" x2="189.16" y2="608.30" stroke="#E4E4E4" stroke-width="0.8"/>
<line x1="224.30" y1="433.30" x2="224.30" y2="608.30" stroke="#E4E4E4" stroke-width="0.8"/>
<line x1="48.60" y1="433.30" x2="48.60" y2="608.30" stroke="#8C8C8C" stroke-width="0.9"/>
<line x1="48.60" y1="608.30" x2="224.30" y2="608.30" stroke="#8C8C8C" stroke-width="0.9"/>
<line x1="46.00" y1="608.30" x2="48.60" y2="608.30" stroke="#8C8C8C" stroke-width="0.8"/>
<text x="44.20" y="610.90" font-size="7.3" text-anchor="end" font-family='"Liberation Sans", sans-serif' fill="#444444" textLength="3.57" lengthAdjust="spacingAndGlyphs">0</text>
<line x1="46.00" y1="586.42" x2="48.60" y2="586.42" stroke="#8C8C8C" stroke-width="0.8"/>
<text x="44.20" y="589.02" font-size="7.3" text-anchor="end" font-family='"Liberation Sans", sans-serif' fill="#444444" textLength="3.57" lengthAdjust="spacingAndGlyphs">2</text>
<line x1="46.00" y1="564.55" x2="48.60" y2="564.55" stroke="#8C8C8C" stroke-width="0.8"/>
<text x="44.20" y="567.15" font-size="7.3" text-anchor="end" font-family='"Liberation Sans", sans-serif' fill="#444444" textLength="3.57" lengthAdjust="spacingAndGlyphs">4</text>
<line x1="46.00" y1="542.67" x2="48.60" y2="542.67" stroke="#8C8C8C" stroke-width="0.8"/>
<text x="44.20" y="545.27" font-size="7.3" text-anchor="end" font-family='"Liberation Sans", sans-serif' fill="#444444" textLength="3.57" lengthAdjust="spacingAndGlyphs">6</text>
<line x1="46.00" y1="520.80" x2="48.60" y2="520.80" stroke="#8C8C8C" stroke-width="0.8"/>
<text x="44.20" y="523.40" font-size="7.3" text-anchor="end" font-family='"Liberation Sans", sans-serif' fill="#444444" textLength="3.57" lengthAdjust="spacingAndGlyphs">8</text>
<line x1="46.00" y1="498.92" x2="48.60" y2="498.92" stroke="#8C8C8C" stroke-width="0.8"/>
<text x="44.20" y="501.52" font-size="7.3" text-anchor="end" font-family='"Liberation Sans", sans-serif' fill="#444444" textLength="7.14" lengthAdjust="spacingAndGlyphs">10</text>
<line x1="46.00" y1="477.05" x2="48.60" y2="477.05" stroke="#8C8C8C" stroke-width="0.8"/>
<text x="44.20" y="479.65" font-size="7.3" text-anchor="end" font-family='"Liberation Sans", sans-serif' fill="#444444" textLength="7.14" lengthAdjust="spacingAndGlyphs">12</text>
<line x1="46.00" y1="455.18" x2="48.60" y2="455.18" stroke="#8C8C8C" stroke-width="0.8"/>
<text x="44.20" y="457.78" font-size="7.3" text-anchor="end" font-family='"Liberation Sans", sans-serif' fill="#444444" textLength="7.14" lengthAdjust="spacingAndGlyphs">14</text>
<line x1="46.00" y1="433.30" x2="48.60" y2="433.30" stroke="#8C8C8C" stroke-width="0.8"/>
<text x="44.20" y="435.90" font-size="7.3" text-anchor="end" font-family='"Liberation Sans", sans-serif' fill="#444444" textLength="7.14" lengthAdjust="spacingAndGlyphs">16</text>
<line x1="48.60" y1="608.30" x2="48.60" y2="611.10" stroke="#8C8C8C" stroke-width="0.8"/>
<text x="50.90" y="622.10" font-size="7.0" text-anchor="middle" font-family='"Liberation Sans", sans-serif' fill="#444444" textLength="8.37" lengthAdjust="spacingAndGlyphs">0.1</text>
<line x1="83.74" y1="608.30" x2="83.74" y2="611.10" stroke="#8C8C8C" stroke-width="0.8"/>
<text x="83.74" y="622.10" font-size="7.0" text-anchor="middle" font-family='"Liberation Sans", sans-serif' fill="#444444" textLength="3.35" lengthAdjust="spacingAndGlyphs">1</text>
<line x1="118.88" y1="608.30" x2="118.88" y2="611.10" stroke="#8C8C8C" stroke-width="0.8"/>
<text x="118.88" y="622.10" font-size="7.0" text-anchor="middle" font-family='"Liberation Sans", sans-serif' fill="#444444" textLength="6.70" lengthAdjust="spacingAndGlyphs">10</text>
<line x1="154.02" y1="608.30" x2="154.02" y2="611.10" stroke="#8C8C8C" stroke-width="0.8"/>
<text x="154.02" y="622.10" font-size="7.0" text-anchor="middle" font-family='"Liberation Sans", sans-serif' fill="#444444" textLength="10.04" lengthAdjust="spacingAndGlyphs">100</text>
<line x1="189.16" y1="608.30" x2="189.16" y2="611.10" stroke="#8C8C8C" stroke-width="0.8"/>
<text x="189.16" y="622.10" font-size="7.0" text-anchor="middle" font-family='"Liberation Sans", sans-serif' fill="#444444" textLength="16.91" lengthAdjust="spacingAndGlyphs">1e+03</text>
<line x1="224.30" y1="608.30" x2="224.30" y2="611.10" stroke="#8C8C8C" stroke-width="0.8"/>
<text x="224.30" y="622.10" font-size="7.0" text-anchor="middle" font-family='"Liberation Sans", sans-serif' fill="#444444" textLength="16.91" lengthAdjust="spacingAndGlyphs">1e+04</text>
<text x="136.75" y="635.30" font-size="7.0" text-anchor="middle" font-family='"Liberation Sans", sans-serif' fill="#444444" textLength="31.1" lengthAdjust="spacingAndGlyphs">Size (d.nm)</text>
<text transform="translate(30.70,521.10) rotate(-90)" x="0" y="2.3" font-size="7.2" text-anchor="middle" font-family='"Liberation Sans", sans-serif' fill="#444444" textLength="59" lengthAdjust="spacingAndGlyphs">Intensity (Percent)</text>
<path d="M113.20,608.30 L115.60,598.00 L118.50,574.00 L121.60,521.20 L125.20,461.20 L127.10,445.60 L129.30,448.00 L131.90,473.20 L135.50,521.20 L139.60,574.00 L142.70,598.00 L145.10,607.60" fill="none" stroke="#27A8E1" stroke-width="1.4" stroke-linejoin="round"/>
<text x="51.40" y="449.10" font-size="14.2" text-anchor="start" font-family='"Liberation Serif", serif' fill="#000" font-weight="bold">ME-7</text>
<line x1="258.60" y1="564.47" x2="435.60" y2="564.47" stroke="#E4E4E4" stroke-width="0.8"/>
<line x1="258.60" y1="521.15" x2="435.60" y2="521.15" stroke="#E4E4E4" stroke-width="0.8"/>
<line x1="258.60" y1="477.82" x2="435.60" y2="477.82" stroke="#E4E4E4" stroke-width="0.8"/>
<line x1="258.60" y1="434.50" x2="435.60" y2="434.50" stroke="#E4E4E4" stroke-width="0.8"/>
<line x1="294.00" y1="434.50" x2="294.00" y2="607.80" stroke="#E4E4E4" stroke-width="0.8"/>
<line x1="329.40" y1="434.50" x2="329.40" y2="607.80" stroke="#E4E4E4" stroke-width="0.8"/>
<line x1="364.80" y1="434.50" x2="364.80" y2="607.80" stroke="#E4E4E4" stroke-width="0.8"/>
<line x1="400.20" y1="434.50" x2="400.20" y2="607.80" stroke="#E4E4E4" stroke-width="0.8"/>
<line x1="435.60" y1="434.50" x2="435.60" y2="607.80" stroke="#E4E4E4" stroke-width="0.8"/>
<line x1="258.60" y1="434.50" x2="258.60" y2="607.80" stroke="#8C8C8C" stroke-width="0.9"/>
<line x1="258.60" y1="607.80" x2="435.60" y2="607.80" stroke="#8C8C8C" stroke-width="0.9"/>
<line x1="256.00" y1="607.80" x2="258.60" y2="607.80" stroke="#8C8C8C" stroke-width="0.8"/>
<text x="254.20" y="610.40" font-size="7.3" text-anchor="end" font-family='"Liberation Sans", sans-serif' fill="#444444" textLength="3.57" lengthAdjust="spacingAndGlyphs">0</text>
<line x1="256.00" y1="564.47" x2="258.60" y2="564.47" stroke="#8C8C8C" stroke-width="0.8"/>
<text x="254.20" y="567.07" font-size="7.3" text-anchor="end" font-family='"Liberation Sans", sans-serif' fill="#444444" textLength="3.57" lengthAdjust="spacingAndGlyphs">5</text>
<line x1="256.00" y1="521.15" x2="258.60" y2="521.15" stroke="#8C8C8C" stroke-width="0.8"/>
<text x="254.20" y="523.75" font-size="7.3" text-anchor="end" font-family='"Liberation Sans", sans-serif' fill="#444444" textLength="7.14" lengthAdjust="spacingAndGlyphs">10</text>
<line x1="256.00" y1="477.82" x2="258.60" y2="477.82" stroke="#8C8C8C" stroke-width="0.8"/>
<text x="254.20" y="480.43" font-size="7.3" text-anchor="end" font-family='"Liberation Sans", sans-serif' fill="#444444" textLength="7.14" lengthAdjust="spacingAndGlyphs">15</text>
<line x1="256.00" y1="434.50" x2="258.60" y2="434.50" stroke="#8C8C8C" stroke-width="0.8"/>
<text x="254.20" y="437.10" font-size="7.3" text-anchor="end" font-family='"Liberation Sans", sans-serif' fill="#444444" textLength="7.14" lengthAdjust="spacingAndGlyphs">20</text>
<line x1="258.60" y1="607.80" x2="258.60" y2="610.60" stroke="#8C8C8C" stroke-width="0.8"/>
<text x="260.90" y="621.60" font-size="7.0" text-anchor="middle" font-family='"Liberation Sans", sans-serif' fill="#444444" textLength="8.37" lengthAdjust="spacingAndGlyphs">0.1</text>
<line x1="294.00" y1="607.80" x2="294.00" y2="610.60" stroke="#8C8C8C" stroke-width="0.8"/>
<text x="294.00" y="621.60" font-size="7.0" text-anchor="middle" font-family='"Liberation Sans", sans-serif' fill="#444444" textLength="3.35" lengthAdjust="spacingAndGlyphs">1</text>
<line x1="329.40" y1="607.80" x2="329.40" y2="610.60" stroke="#8C8C8C" stroke-width="0.8"/>
<text x="329.40" y="621.60" font-size="7.0" text-anchor="middle" font-family='"Liberation Sans", sans-serif' fill="#444444" textLength="6.70" lengthAdjust="spacingAndGlyphs">10</text>
<line x1="364.80" y1="607.80" x2="364.80" y2="610.60" stroke="#8C8C8C" stroke-width="0.8"/>
<text x="364.80" y="621.60" font-size="7.0" text-anchor="middle" font-family='"Liberation Sans", sans-serif' fill="#444444" textLength="10.04" lengthAdjust="spacingAndGlyphs">100</text>
<line x1="400.20" y1="607.80" x2="400.20" y2="610.60" stroke="#8C8C8C" stroke-width="0.8"/>
<text x="400.20" y="621.60" font-size="7.0" text-anchor="middle" font-family='"Liberation Sans", sans-serif' fill="#444444" textLength="16.91" lengthAdjust="spacingAndGlyphs">1e+03</text>
<line x1="435.60" y1="607.80" x2="435.60" y2="610.60" stroke="#8C8C8C" stroke-width="0.8"/>
<text x="435.60" y="621.60" font-size="7.0" text-anchor="middle" font-family='"Liberation Sans", sans-serif' fill="#444444" textLength="16.91" lengthAdjust="spacingAndGlyphs">1e+04</text>
<text x="347.40" y="634.80" font-size="7.0" text-anchor="middle" font-family='"Liberation Sans", sans-serif' fill="#444444" textLength="31.1" lengthAdjust="spacingAndGlyphs">Size (d.nm)</text>
<text transform="translate(240.50,521.45) rotate(-90)" x="0" y="2.3" font-size="7.2" text-anchor="middle" font-family='"Liberation Sans", sans-serif' fill="#444444" textLength="59" lengthAdjust="spacingAndGlyphs">Intensity (Percent)</text>
<path d="M323.70,607.60 L326.10,593.20 L328.70,562.00 L331.60,509.20 L333.50,480.40 L335.40,464.80 L337.80,466.50 L340.20,486.40 L343.10,523.60 L346.50,574.00 L349.10,598.00 L351.30,607.30" fill="none" stroke="#27A8E1" stroke-width="1.4" stroke-linejoin="round"/>
<text x="261.00" y="450.30" font-size="14.2" text-anchor="start" font-family='"Liberation Serif", serif' fill="#000" font-weight="bold">ME-10</text>
<defs><linearGradient id="hdr" x1="0" y1="0" x2="0" y2="1"><stop offset="0" stop-color="#FAFAFA"/><stop offset="1" stop-color="#EEEEEE"/></linearGradient><clipPath id="clipL"><rect x="0" y="640" width="240.6" height="130"/></clipPath><clipPath id="clipR"><rect x="241.5" y="640" width="211" height="130"/></clipPath></defs>
<g clip-path="url(#clipL)">
<rect x="31.40" y="653.20" width="209.20" height="15.20" fill="url(#hdr)"/>
<line x1="31.40" y1="668.40" x2="240.60" y2="668.40" stroke="#D6D6D6" stroke-width="0.9"/>
<line x1="31.40" y1="653.20" x2="31.40" y2="668.40" stroke="#DADADA" stroke-width="0.8"/>
<line x1="105.60" y1="653.20" x2="105.60" y2="668.40" stroke="#DADADA" stroke-width="0.8"/>
<line x1="130.60" y1="653.20" x2="130.60" y2="668.40" stroke="#DADADA" stroke-width="0.8"/>
<line x1="176.20" y1="653.20" x2="176.20" y2="668.40" stroke="#DADADA" stroke-width="0.8"/>
<line x1="188.90" y1="653.20" x2="188.90" y2="668.40" stroke="#DADADA" stroke-width="0.8"/>
<line x1="214.30" y1="653.20" x2="214.30" y2="668.40" stroke="#DADADA" stroke-width="0.8"/>
<line x1="239.80" y1="653.20" x2="239.80" y2="668.40" stroke="#DADADA" stroke-width="0.8"/>
<line x1="31.40" y1="668.40" x2="31.40" y2="755.40" stroke="#EBEBEB" stroke-width="0.7"/>
<line x1="107.40" y1="668.40" x2="107.40" y2="755.40" stroke="#EBEBEB" stroke-width="0.7"/>
<line x1="132.40" y1="668.40" x2="132.40" y2="755.40" stroke="#EBEBEB" stroke-width="0.7"/>
<line x1="178.00" y1="668.40" x2="178.00" y2="755.40" stroke="#EBEBEB" stroke-width="0.7"/>
<line x1="190.60" y1="668.40" x2="190.60" y2="755.40" stroke="#EBEBEB" stroke-width="0.7"/>
<line x1="216.00" y1="668.40" x2="216.00" y2="755.40" stroke="#EBEBEB" stroke-width="0.7"/>
<line x1="239.80" y1="668.40" x2="239.80" y2="755.40" stroke="#EBEBEB" stroke-width="0.7"/>
<line x1="31.40" y1="683.80" x2="240.60" y2="683.80" stroke="#E8E8E8" stroke-width="0.7"/>
<line x1="31.40" y1="698.10" x2="240.60" y2="698.10" stroke="#E8E8E8" stroke-width="0.7"/>
<line x1="31.40" y1="712.40" x2="240.60" y2="712.40" stroke="#E8E8E8" stroke-width="0.7"/>
<line x1="31.40" y1="726.80" x2="240.60" y2="726.80" stroke="#E8E8E8" stroke-width="0.7"/>
<line x1="31.40" y1="741.10" x2="240.60" y2="741.10" stroke="#E8E8E8" stroke-width="0.7"/>
<line x1="31.40" y1="755.40" x2="240.60" y2="755.40" stroke="#E8E8E8" stroke-width="0.7"/>
<text x="33.20" y="663.80" font-size="8.4" font-family='"Liberation Sans", sans-serif' fill="#2a2a2a" stroke="#2a2a2a" stroke-width="0.15" textLength="12.20" lengthAdjust="spacingAndGlyphs">Name</text>
<text x="107.60" y="663.80" font-size="8.4" font-family='"Liberation Sans", sans-serif' fill="#2a2a2a" stroke="#2a2a2a" stroke-width="0.15" textLength="12.30" lengthAdjust="spacingAndGlyphs">Mean</text>
<text x="131.80" y="663.80" font-size="8.4" font-family='"Liberation Sans", sans-serif' fill="#2a2a2a" stroke="#2a2a2a" stroke-width="0.15" textLength="41.90" lengthAdjust="spacingAndGlyphs">Standard Deviation</text>
<text x="177.90" y="663.80" font-size="8.4" font-family='"Liberation Sans", sans-serif' fill="#2a2a2a" stroke="#2a2a2a" stroke-width="0.15" textLength="8.50" lengthAdjust="spacingAndGlyphs">RSD</text>
<text x="191.00" y="663.80" font-size="8.4" font-family='"Liberation Sans", sans-serif' fill="#2a2a2a" stroke="#2a2a2a" stroke-width="0.15" textLength="19.70" lengthAdjust="spacingAndGlyphs">Minimum</text>
<text x="216.00" y="663.80" font-size="8.4" font-family='"Liberation Sans", sans-serif' fill="#2a2a2a" stroke="#2a2a2a" stroke-width="0.15" textLength="21.20" lengthAdjust="spacingAndGlyphs">Maximum</text>
<text x="33.80" y="679.80" font-size="8.4" font-family='"Liberation Sans", sans-serif' fill="#2a2a2a" stroke="#2a2a2a" stroke-width="0.15" textLength="34.20" lengthAdjust="spacingAndGlyphs">Z-Average (nm)</text>
<text x="108.80" y="679.80" font-size="8.4" font-family='"Liberation Sans", sans-serif' fill="#2a2a2a" stroke="#2a2a2a" stroke-width="0.15" textLength="11.77" lengthAdjust="spacingAndGlyphs">17.87</text>
<text x="134.00" y="679.80" font-size="8.4" font-family='"Liberation Sans", sans-serif' fill="#2a2a2a" stroke="#2a2a2a" stroke-width="0.15" textLength="1.68" lengthAdjust="spacingAndGlyphs">-</text>
<text x="179.20" y="679.80" font-size="8.4" font-family='"Liberation Sans", sans-serif' fill="#2a2a2a" stroke="#2a2a2a" stroke-width="0.15" textLength="1.68" lengthAdjust="spacingAndGlyphs">-</text>
<text x="192.40" y="679.80" font-size="8.4" font-family='"Liberation Sans", sans-serif' fill="#2a2a2a" stroke="#2a2a2a" stroke-width="0.15" textLength="11.77" lengthAdjust="spacingAndGlyphs">17.87</text>
<text x="217.40" y="679.80" font-size="8.4" font-family='"Liberation Sans", sans-serif' fill="#2a2a2a" stroke="#2a2a2a" stroke-width="0.15" textLength="11.77" lengthAdjust="spacingAndGlyphs">17.87</text>
<text x="33.80" y="694.10" font-size="8.4" font-family='"Liberation Sans", sans-serif' fill="#2a2a2a" stroke="#2a2a2a" stroke-width="0.15" textLength="50.40" lengthAdjust="spacingAndGlyphs">Polydispersity Index (PI)</text>
<text x="108.80" y="694.10" font-size="8.4" font-family='"Liberation Sans", sans-serif' fill="#2a2a2a" stroke="#2a2a2a" stroke-width="0.15" textLength="14.39" lengthAdjust="spacingAndGlyphs">0.1387</text>
<text x="134.00" y="694.10" font-size="8.4" font-family='"Liberation Sans", sans-serif' fill="#2a2a2a" stroke="#2a2a2a" stroke-width="0.15" textLength="1.68" lengthAdjust="spacingAndGlyphs">-</text>
<text x="179.20" y="694.10" font-size="8.4" font-family='"Liberation Sans", sans-serif' fill="#2a2a2a" stroke="#2a2a2a" stroke-width="0.15" textLength="1.68" lengthAdjust="spacingAndGlyphs">-</text>
<text x="192.40" y="694.10" font-size="8.4" font-family='"Liberation Sans", sans-serif' fill="#2a2a2a" stroke="#2a2a2a" stroke-width="0.15" textLength="14.39" lengthAdjust="spacingAndGlyphs">0.1387</text>
<text x="217.40" y="694.10" font-size="8.4" font-family='"Liberation Sans", sans-serif' fill="#2a2a2a" stroke="#2a2a2a" stroke-width="0.15" textLength="14.39" lengthAdjust="spacingAndGlyphs">0.1387</text>
<text x="33.80" y="708.40" font-size="8.4" font-family='"Liberation Sans", sans-serif' fill="#2a2a2a" stroke="#2a2a2a" stroke-width="0.15" textLength="19.40" lengthAdjust="spacingAndGlyphs">Intercept</text>
<text x="108.80" y="708.40" font-size="8.4" font-family='"Liberation Sans", sans-serif' fill="#2a2a2a" stroke="#2a2a2a" stroke-width="0.15" textLength="14.39" lengthAdjust="spacingAndGlyphs">0.9719</text>
<text x="134.00" y="708.40" font-size="8.4" font-family='"Liberation Sans", sans-serif' fill="#2a2a2a" stroke="#2a2a2a" stroke-width="0.15" textLength="1.68" lengthAdjust="spacingAndGlyphs">-</text>
<text x="179.20" y="708.40" font-size="8.4" font-family='"Liberation Sans", sans-serif' fill="#2a2a2a" stroke="#2a2a2a" stroke-width="0.15" textLength="1.68" lengthAdjust="spacingAndGlyphs">-</text>
<text x="192.40" y="708.40" font-size="8.4" font-family='"Liberation Sans", sans-serif' fill="#2a2a2a" stroke="#2a2a2a" stroke-width="0.15" textLength="14.39" lengthAdjust="spacingAndGlyphs">0.9719</text>
<text x="217.40" y="708.40" font-size="8.4" font-family='"Liberation Sans", sans-serif' fill="#2a2a2a" stroke="#2a2a2a" stroke-width="0.15" textLength="14.39" lengthAdjust="spacingAndGlyphs">0.9719</text>
<text x="33.80" y="722.70" font-size="8.4" font-family='"Liberation Sans", sans-serif' fill="#2a2a2a" stroke="#2a2a2a" stroke-width="0.15" textLength="17.10" lengthAdjust="spacingAndGlyphs">Fit Error</text>
<text x="108.80" y="722.70" font-size="8.4" font-family='"Liberation Sans", sans-serif' fill="#2a2a2a" stroke="#2a2a2a" stroke-width="0.15" textLength="22.23" lengthAdjust="spacingAndGlyphs">0.0007957</text>
<text x="134.00" y="722.70" font-size="8.4" font-family='"Liberation Sans", sans-serif' fill="#2a2a2a" stroke="#2a2a2a" stroke-width="0.15" textLength="1.68" lengthAdjust="spacingAndGlyphs">-</text>
<text x="179.20" y="722.70" font-size="8.4" font-family='"Liberation Sans", sans-serif' fill="#2a2a2a" stroke="#2a2a2a" stroke-width="0.15" textLength="1.68" lengthAdjust="spacingAndGlyphs">-</text>
<text x="192.40" y="722.70" font-size="8.4" font-family='"Liberation Sans", sans-serif' fill="#2a2a2a" stroke="#2a2a2a" stroke-width="0.15" textLength="22.23" lengthAdjust="spacingAndGlyphs">0.0007957</text>
<text x="217.40" y="722.70" font-size="8.4" font-family='"Liberation Sans", sans-serif' fill="#2a2a2a" stroke="#2a2a2a" stroke-width="0.15" textLength="22.23" lengthAdjust="spacingAndGlyphs">0.0007957</text>
<text x="33.80" y="737.10" font-size="8.4" font-family='"Liberation Sans", sans-serif' fill="#2a2a2a" stroke="#2a2a2a" stroke-width="0.15" textLength="27.30" lengthAdjust="spacingAndGlyphs">In Range (%)</text>
<text x="108.80" y="737.10" font-size="8.4" font-family='"Liberation Sans", sans-serif' fill="#2a2a2a" stroke="#2a2a2a" stroke-width="0.15" textLength="11.77" lengthAdjust="spacingAndGlyphs">98.34</text>
<text x="134.00" y="737.10" font-size="8.4" font-family='"Liberation Sans", sans-serif' fill="#2a2a2a" stroke="#2a2a2a" stroke-width="0.15" textLength="1.68" lengthAdjust="spacingAndGlyphs">-</text>
<text x="179.20" y="737.10" font-size="8.4" font-family='"Liberation Sans", sans-serif' fill="#2a2a2a" stroke="#2a2a2a" stroke-width="0.15" textLength="1.68" lengthAdjust="spacingAndGlyphs">-</text>
<text x="192.40" y="737.10" font-size="8.4" font-family='"Liberation Sans", sans-serif' fill="#2a2a2a" stroke="#2a2a2a" stroke-width="0.15" textLength="11.77" lengthAdjust="spacingAndGlyphs">98.34</text>
<text x="217.40" y="737.10" font-size="8.4" font-family='"Liberation Sans", sans-serif' fill="#2a2a2a" stroke="#2a2a2a" stroke-width="0.15" textLength="11.77" lengthAdjust="spacingAndGlyphs">98.34</text>
<text x="33.80" y="751.40" font-size="8.4" font-family='"Liberation Sans", sans-serif' fill="#2a2a2a" stroke="#2a2a2a" stroke-width="0.15" textLength="72.00" lengthAdjust="spacingAndGlyphs">Peak One Mean by Intensity (nm)</text>
<text x="108.80" y="751.40" font-size="8.4" font-family='"Liberation Sans", sans-serif' fill="#2a2a2a" stroke="#2a2a2a" stroke-width="0.15" textLength="11.77" lengthAdjust="spacingAndGlyphs">20.44</text>
<text x="134.00" y="751.40" font-size="8.4" font-family='"Liberation Sans", sans-serif' fill="#2a2a2a" stroke="#2a2a2a" stroke-width="0.15" textLength="1.68" lengthAdjust="spacingAndGlyphs">-</text>
<text x="179.20" y="751.40" font-size="8.4" font-family='"Liberation Sans", sans-serif' fill="#2a2a2a" stroke="#2a2a2a" stroke-width="0.15" textLength="1.68" lengthAdjust="spacingAndGlyphs">-</text>
<text x="192.40" y="751.40" font-size="8.4" font-family='"Liberation Sans", sans-serif' fill="#2a2a2a" stroke="#2a2a2a" stroke-width="0.15" textLength="11.77" lengthAdjust="spacingAndGlyphs">20.44</text>
<text x="217.40" y="751.40" font-size="8.4" font-family='"Liberation Sans", sans-serif' fill="#2a2a2a" stroke="#2a2a2a" stroke-width="0.15" textLength="11.77" lengthAdjust="spacingAndGlyphs">20.44</text>
</g>
<g clip-path="url(#clipR)">
<rect x="242.40" y="651.90" width="210.10" height="17.70" fill="url(#hdr)"/>
<line x1="242.40" y1="669.60" x2="452.50" y2="669.60" stroke="#D6D6D6" stroke-width="0.9"/>
<line x1="242.40" y1="651.90" x2="452.50" y2="651.90" stroke="#A9C3DF" stroke-width="1.1"/>
<line x1="242.40" y1="651.90" x2="242.40" y2="669.60" stroke="#DADADA" stroke-width="0.8"/>
<line x1="317.30" y1="651.90" x2="317.30" y2="669.60" stroke="#DADADA" stroke-width="0.8"/>
<line x1="341.80" y1="651.90" x2="341.80" y2="669.60" stroke="#DADADA" stroke-width="0.8"/>
<line x1="388.10" y1="651.90" x2="388.10" y2="669.60" stroke="#DADADA" stroke-width="0.8"/>
<line x1="401.40" y1="651.90" x2="401.40" y2="669.60" stroke="#DADADA" stroke-width="0.8"/>
<line x1="426.60" y1="651.90" x2="426.60" y2="669.60" stroke="#DADADA" stroke-width="0.8"/>
<line x1="242.40" y1="669.60" x2="242.40" y2="755.80" stroke="#EBEBEB" stroke-width="0.7"/>
<line x1="319.00" y1="669.60" x2="319.00" y2="755.80" stroke="#EBEBEB" stroke-width="0.7"/>
<line x1="343.50" y1="669.60" x2="343.50" y2="755.80" stroke="#EBEBEB" stroke-width="0.7"/>
<line x1="390.30" y1="669.60" x2="390.30" y2="755.80" stroke="#EBEBEB" stroke-width="0.7"/>
<line x1="403.00" y1="669.60" x2="403.00" y2="755.80" stroke="#EBEBEB" stroke-width="0.7"/>
<line x1="428.30" y1="669.60" x2="428.30" y2="755.80" stroke="#EBEBEB" stroke-width="0.7"/>
<line x1="242.40" y1="685.30" x2="452.50" y2="685.30" stroke="#E8E8E8" stroke-width="0.7"/>
<line x1="242.40" y1="699.70" x2="452.50" y2="699.70" stroke="#E8E8E8" stroke-width="0.7"/>
<line x1="242.40" y1="714.10" x2="452.50" y2="714.10" stroke="#E8E8E8" stroke-width="0.7"/>
<line x1="242.40" y1="728.60" x2="452.50" y2="728.60" stroke="#E8E8E8" stroke-width="0.7"/>
<line x1="242.40" y1="743.10" x2="452.50" y2="743.10" stroke="#E8E8E8" stroke-width="0.7"/>
<line x1="242.40" y1="755.80" x2="452.50" y2="755.80" stroke="#E8E8E8" stroke-width="0.7"/>
<text x="244.10" y="664.70" font-size="8.4" font-family='"Liberation Sans", sans-serif' fill="#2a2a2a" stroke="#2a2a2a" stroke-width="0.15" textLength="12.20" lengthAdjust="spacingAndGlyphs">Name</text>
<text x="319.00" y="664.70" font-size="8.4" font-family='"Liberation Sans", sans-serif' fill="#2a2a2a" stroke="#2a2a2a" stroke-width="0.15" textLength="12.30" lengthAdjust="spacingAndGlyphs">Mean</text>
<text x="344.20" y="664.70" font-size="8.4" font-family='"Liberation Sans", sans-serif' fill="#2a2a2a" stroke="#2a2a2a" stroke-width="0.15" textLength="41.90" lengthAdjust="spacingAndGlyphs">Standard Deviation</text>
<text x="389.70" y="664.70" font-size="8.4" font-family='"Liberation Sans", sans-serif' fill="#2a2a2a" stroke="#2a2a2a" stroke-width="0.15" textLength="8.50" lengthAdjust="spacingAndGlyphs">RSD</text>
<text x="402.60" y="664.70" font-size="8.4" font-family='"Liberation Sans", sans-serif' fill="#2a2a2a" stroke="#2a2a2a" stroke-width="0.15" textLength="19.70" lengthAdjust="spacingAndGlyphs">Minimum</text>
<text x="428.30" y="664.70" font-size="8.4" font-family='"Liberation Sans", sans-serif' fill="#2a2a2a" stroke="#2a2a2a" stroke-width="0.15" textLength="21.20" lengthAdjust="spacingAndGlyphs">Maximum</text>
<text x="245.10" y="681.30" font-size="8.4" font-family='"Liberation Sans", sans-serif' fill="#2a2a2a" stroke="#2a2a2a" stroke-width="0.15" textLength="34.20" lengthAdjust="spacingAndGlyphs">Z-Average (nm)</text>
<text x="320.60" y="681.30" font-size="8.4" font-family='"Liberation Sans", sans-serif' fill="#2a2a2a" stroke="#2a2a2a" stroke-width="0.15" textLength="5.23" lengthAdjust="spacingAndGlyphs">16</text>
<text x="345.80" y="681.30" font-size="8.4" font-family='"Liberation Sans", sans-serif' fill="#2a2a2a" stroke="#2a2a2a" stroke-width="0.15" textLength="1.68" lengthAdjust="spacingAndGlyphs">-</text>
<text x="392.00" y="681.30" font-size="8.4" font-family='"Liberation Sans", sans-serif' fill="#2a2a2a" stroke="#2a2a2a" stroke-width="0.15" textLength="1.68" lengthAdjust="spacingAndGlyphs">-</text>
<text x="404.60" y="681.30" font-size="8.4" font-family='"Liberation Sans", sans-serif' fill="#2a2a2a" stroke="#2a2a2a" stroke-width="0.15" textLength="5.23" lengthAdjust="spacingAndGlyphs">16</text>
<text x="430.60" y="681.30" font-size="8.4" font-family='"Liberation Sans", sans-serif' fill="#2a2a2a" stroke="#2a2a2a" stroke-width="0.15" textLength="5.23" lengthAdjust="spacingAndGlyphs">16</text>
<text x="245.10" y="695.50" font-size="8.4" font-family='"Liberation Sans", sans-serif' fill="#2a2a2a" stroke="#2a2a2a" stroke-width="0.15" textLength="50.40" lengthAdjust="spacingAndGlyphs">Polydispersity Index (PI)</text>
<text x="320.60" y="695.50" font-size="8.4" font-family='"Liberation Sans", sans-serif' fill="#2a2a2a" stroke="#2a2a2a" stroke-width="0.15" textLength="14.39" lengthAdjust="spacingAndGlyphs">0.1287</text>
<text x="345.80" y="695.50" font-size="8.4" font-family='"Liberation Sans", sans-serif' fill="#2a2a2a" stroke="#2a2a2a" stroke-width="0.15" textLength="1.68" lengthAdjust="spacingAndGlyphs">-</text>
<text x="392.00" y="695.50" font-size="8.4" font-family='"Liberation Sans", sans-serif' fill="#2a2a2a" stroke="#2a2a2a" stroke-width="0.15" textLength="1.68" lengthAdjust="spacingAndGlyphs">-</text>
<text x="404.60" y="695.50" font-size="8.4" font-family='"Liberation Sans", sans-serif' fill="#2a2a2a" stroke="#2a2a2a" stroke-width="0.15" textLength="14.39" lengthAdjust="spacingAndGlyphs">0.1287</text>
<text x="430.60" y="695.50" font-size="8.4" font-family='"Liberation Sans", sans-serif' fill="#2a2a2a" stroke="#2a2a2a" stroke-width="0.15" textLength="14.39" lengthAdjust="spacingAndGlyphs">0.1287</text>
<text x="245.10" y="709.90" font-size="8.4" font-family='"Liberation Sans", sans-serif' fill="#2a2a2a" stroke="#2a2a2a" stroke-width="0.15" textLength="19.40" lengthAdjust="spacingAndGlyphs">Intercept</text>
<text x="320.60" y="709.90" font-size="8.4" font-family='"Liberation Sans", sans-serif' fill="#2a2a2a" stroke="#2a2a2a" stroke-width="0.15" textLength="14.39" lengthAdjust="spacingAndGlyphs">0.9703</text>
<text x="345.80" y="709.90" font-size="8.4" font-family='"Liberation Sans", sans-serif' fill="#2a2a2a" stroke="#2a2a2a" stroke-width="0.15" textLength="1.68" lengthAdjust="spacingAndGlyphs">-</text>
<text x="392.00" y="709.90" font-size="8.4" font-family='"Liberation Sans", sans-serif' fill="#2a2a2a" stroke="#2a2a2a" stroke-width="0.15" textLength="1.68" lengthAdjust="spacingAndGlyphs">-</text>
<text x="404.60" y="709.90" font-size="8.4" font-family='"Liberation Sans", sans-serif' fill="#2a2a2a" stroke="#2a2a2a" stroke-width="0.15" textLength="14.39" lengthAdjust="spacingAndGlyphs">0.9703</text>
<text x="430.60" y="709.90" font-size="8.4" font-family='"Liberation Sans", sans-serif' fill="#2a2a2a" stroke="#2a2a2a" stroke-width="0.15" textLength="14.39" lengthAdjust="spacingAndGlyphs">0.9703</text>
<text x="245.10" y="724.30" font-size="8.4" font-family='"Liberation Sans", sans-serif' fill="#2a2a2a" stroke="#2a2a2a" stroke-width="0.15" textLength="17.10" lengthAdjust="spacingAndGlyphs">Fit Error</text>
<text x="320.60" y="724.30" font-size="8.4" font-family='"Liberation Sans", sans-serif' fill="#2a2a2a" stroke="#2a2a2a" stroke-width="0.15" textLength="22.23" lengthAdjust="spacingAndGlyphs">0.0008513</text>
<text x="345.80" y="724.30" font-size="8.4" font-family='"Liberation Sans", sans-serif' fill="#2a2a2a" stroke="#2a2a2a" stroke-width="0.15" textLength="1.68" lengthAdjust="spacingAndGlyphs">-</text>
<text x="392.00" y="724.30" font-size="8.4" font-family='"Liberation Sans", sans-serif' fill="#2a2a2a" stroke="#2a2a2a" stroke-width="0.15" textLength="1.68" lengthAdjust="spacingAndGlyphs">-</text>
<text x="404.60" y="724.30" font-size="8.4" font-family='"Liberation Sans", sans-serif' fill="#2a2a2a" stroke="#2a2a2a" stroke-width="0.15" textLength="22.23" lengthAdjust="spacingAndGlyphs">0.0008513</text>
<text x="430.60" y="724.30" font-size="8.4" font-family='"Liberation Sans", sans-serif' fill="#2a2a2a" stroke="#2a2a2a" stroke-width="0.15" textLength="22.23" lengthAdjust="spacingAndGlyphs">0.0008513</text>
<text x="245.10" y="738.90" font-size="8.4" font-family='"Liberation Sans", sans-serif' fill="#2a2a2a" stroke="#2a2a2a" stroke-width="0.15" textLength="27.30" lengthAdjust="spacingAndGlyphs">In Range (%)</text>
<text x="320.60" y="738.90" font-size="8.4" font-family='"Liberation Sans", sans-serif' fill="#2a2a2a" stroke="#2a2a2a" stroke-width="0.15" textLength="11.77" lengthAdjust="spacingAndGlyphs">97.06</text>
<text x="345.80" y="738.90" font-size="8.4" font-family='"Liberation Sans", sans-serif' fill="#2a2a2a" stroke="#2a2a2a" stroke-width="0.15" textLength="1.68" lengthAdjust="spacingAndGlyphs">-</text>
<text x="392.00" y="738.90" font-size="8.4" font-family='"Liberation Sans", sans-serif' fill="#2a2a2a" stroke="#2a2a2a" stroke-width="0.15" textLength="1.68" lengthAdjust="spacingAndGlyphs">-</text>
<text x="404.60" y="738.90" font-size="8.4" font-family='"Liberation Sans", sans-serif' fill="#2a2a2a" stroke="#2a2a2a" stroke-width="0.15" textLength="11.77" lengthAdjust="spacingAndGlyphs">97.06</text>
<text x="430.60" y="738.90" font-size="8.4" font-family='"Liberation Sans", sans-serif' fill="#2a2a2a" stroke="#2a2a2a" stroke-width="0.15" textLength="11.77" lengthAdjust="spacingAndGlyphs">97.06</text>
<text x="245.10" y="753.00" font-size="8.4" font-family='"Liberation Sans", sans-serif' fill="#2a2a2a" stroke="#2a2a2a" stroke-width="0.15" textLength="72.00" lengthAdjust="spacingAndGlyphs">Peak One Mean by Intensity (nm)</text>
<text x="320.60" y="753.00" font-size="8.4" font-family='"Liberation Sans", sans-serif' fill="#2a2a2a" stroke="#2a2a2a" stroke-width="0.15" textLength="11.77" lengthAdjust="spacingAndGlyphs">17.54</text>
<text x="345.80" y="753.00" font-size="8.4" font-family='"Liberation Sans", sans-serif' fill="#2a2a2a" stroke="#2a2a2a" stroke-width="0.15" textLength="1.68" lengthAdjust="spacingAndGlyphs">-</text>
<text x="392.00" y="753.00" font-size="8.4" font-family='"Liberation Sans", sans-serif' fill="#2a2a2a" stroke="#2a2a2a" stroke-width="0.15" textLength="1.68" lengthAdjust="spacingAndGlyphs">-</text>
<text x="404.60" y="753.00" font-size="8.4" font-family='"Liberation Sans", sans-serif' fill="#2a2a2a" stroke="#2a2a2a" stroke-width="0.15" textLength="11.77" lengthAdjust="spacingAndGlyphs">17.54</text>
<text x="430.60" y="753.00" font-size="8.4" font-family='"Liberation Sans", sans-serif' fill="#2a2a2a" stroke="#2a2a2a" stroke-width="0.15" textLength="11.77" lengthAdjust="spacingAndGlyphs">17.54</text>
</g>
<defs><radialGradient id="dish1" cx="0.5" cy="0.5" r="0.5"><stop offset="0" stop-color="#FCC262"/><stop offset="0.5" stop-color="#FBBC5A"/><stop offset="0.9" stop-color="#FAB653"/><stop offset="0.955" stop-color="#F9B04C"/><stop offset="0.968" stop-color="#F8AD4A"/><stop offset="0.978" stop-color="#FAD28E"/><stop offset="0.988" stop-color="#FBE6B4"/><stop offset="0.995" stop-color="#DCCFA0"/><stop offset="1" stop-color="#EDE6BC"/></radialGradient><radialGradient id="dish2" cx="0.5" cy="0.5" r="0.5"><stop offset="0" stop-color="#FCCB70"/><stop offset="0.7" stop-color="#FBC86B"/><stop offset="0.9" stop-color="#FAC163"/><stop offset="0.945" stop-color="#F7B457"/><stop offset="0.972" stop-color="#F6AE54"/><stop offset="0.986" stop-color="#F8C898"/><stop offset="1" stop-color="#FBE2BC"/></radialGradient><radialGradient id="halo" cx="0.5" cy="0.5" r="0.5"><stop offset="0" stop-color="#FDF0B0"/><stop offset="0.6" stop-color="#FCE786"/><stop offset="0.72" stop-color="#FBE07E"/><stop offset="0.85" stop-color="#FBD070" stop-opacity="0.7"/><stop offset="1" stop-color="#FAC060" stop-opacity="0"/></radialGradient><radialGradient id="hole" cx="0.45" cy="0.45" r="0.55"><stop offset="0" stop-color="#FFFCEA"/><stop offset="0.8" stop-color="#FDF6D6"/><stop offset="1" stop-color="#F2E2A8"/></radialGradient><radialGradient id="halo2" cx="0.5" cy="0.55" r="0.5"><stop offset="0" stop-color="#FDF3B0"/><stop offset="0.65" stop-color="#FCEC9C"/><stop offset="0.82" stop-color="#FADA88" stop-opacity="0.85"/><stop offset="1" stop-color="#F7B955" stop-opacity="0"/></radialGradient></defs>
<rect x="490.0" y="406.50" width="174.0" height="173.60" fill="#FFFCCC"/>
<ellipse cx="575.10" cy="494.45" rx="84.70" ry="82.50" fill="url(#dish1)"/>
<rect x="541.30" y="417.60" width="75.10" height="23.30" fill="#fff" stroke="#000" stroke-width="1.8"/>
<text x="578.85" y="434.45" font-size="15.2" text-anchor="middle" font-family='"Liberation Serif", serif' fill="#000" font-weight="bold" font-style="italic" textLength="67.5" lengthAdjust="spacingAndGlyphs">C. albicans</text>
<rect x="516.20" y="451.00" width="24.30" height="22.10" fill="#fff"/>
<text x="528.35" y="464.55" font-size="6.9" text-anchor="middle" font-family='"Liberation Serif", serif' fill="#1a1a1a" font-weight="bold" textLength="14.8" lengthAdjust="spacingAndGlyphs">ME7</text>
<rect x="527.70" y="525.60" width="23.70" height="22.40" fill="#fff"/>
<text x="539.55" y="539.30" font-size="6.9" text-anchor="middle" font-family='"Liberation Serif", serif' fill="#1a1a1a" font-weight="bold" textLength="15.2" lengthAdjust="spacingAndGlyphs">ME8</text>
<circle cx="569.30" cy="457.30" r="12.50" fill="none" stroke="#E99E3E" stroke-width="3" opacity="0.35"/>
<circle cx="568.90" cy="456.90" r="11.50" fill="url(#halo)"/>
<circle cx="568.70" cy="456.70" r="7.90" fill="none" stroke="#FCE98E" stroke-width="2.2"/>
<circle cx="568.50" cy="456.50" r="6.60" fill="url(#hole)" stroke="#BFA660" stroke-width="0.7"/>
<circle cx="587.70" cy="534.30" r="11.00" fill="none" stroke="#E99E3E" stroke-width="3" opacity="0.35"/>
<circle cx="587.30" cy="533.90" r="10.00" fill="url(#halo)"/>
<circle cx="587.10" cy="533.70" r="8.10" fill="none" stroke="#FCE98E" stroke-width="2.2"/>
<circle cx="586.90" cy="533.50" r="6.80" fill="url(#hole)" stroke="#BFA660" stroke-width="0.7"/>
<line x1="588.30" y1="449.60" x2="588.30" y2="466.00" stroke="#1a1a1a" stroke-width="1.3" stroke-dasharray="1.6,1.1"/>
<path d="M584.30,452.60 L588.30,448.50 L592.30,452.60" fill="none" stroke="#111" stroke-width="1.7" stroke-linejoin="miter"/>
<path d="M584.30,463.00 L588.30,467.10 L592.30,463.00" fill="none" stroke="#111" stroke-width="1.7" stroke-linejoin="miter"/>
<line x1="604.10" y1="524.20" x2="604.10" y2="541.00" stroke="#1a1a1a" stroke-width="1.3" stroke-dasharray="1.6,1.1"/>
<path d="M600.10,527.20 L604.10,523.10 L608.10,527.20" fill="none" stroke="#111" stroke-width="1.7" stroke-linejoin="miter"/>
<path d="M600.10,538.00 L604.10,542.10 L608.10,538.00" fill="none" stroke="#111" stroke-width="1.7" stroke-linejoin="miter"/>
<text x="607.60" y="462.30" font-size="6.2" text-anchor="start" font-family='"Liberation Sans", sans-serif' fill="#2B1D05" font-weight="bold" textLength="18.0" lengthAdjust="spacingAndGlyphs">11mm</text>
<text x="621.40" y="532.50" font-size="6.2" text-anchor="start" font-family='"Liberation Sans", sans-serif' fill="#2B1D05" font-weight="bold" textLength="15.0" lengthAdjust="spacingAndGlyphs">9mm</text>
<rect x="490" y="580.1" width="174" height="2.0" fill="#FFFFF6"/>
<rect x="490.0" y="582.10" width="174.0" height="173.80" fill="#FFFCCC"/>
<ellipse cx="575.20" cy="668.40" rx="83.50" ry="83.20" fill="url(#dish2)"/>
<ellipse cx="576.8" cy="663.5" rx="13.5" ry="17.5" fill="url(#halo2)"/>
<circle cx="574.6" cy="667.6" r="6.5" fill="url(#hole)" stroke="#B9A060" stroke-width="0.7"/>
<rect x="542.60" y="591.90" width="75.20" height="23.00" fill="#fff" stroke="#000" stroke-width="1.8"/>
<text x="580.20" y="608.60" font-size="15.2" text-anchor="middle" font-family='"Liberation Serif", serif' fill="#000" font-weight="bold" font-style="italic" textLength="67.5" lengthAdjust="spacingAndGlyphs">C. albicans</text>
<rect x="560.80" y="622.60" width="23.80" height="22.20" fill="#fff"/>
<text x="572.70" y="636.20" font-size="6.9" text-anchor="middle" font-family='"Liberation Serif", serif' fill="#1a1a1a" font-weight="bold" textLength="17.4" lengthAdjust="spacingAndGlyphs">ME10</text>
<line x1="594.40" y1="648.90" x2="594.40" y2="678.60" stroke="#1a1a1a" stroke-width="1.3" stroke-dasharray="1.6,1.1"/>
<path d="M590.40,651.90 L594.40,647.80 L598.40,651.90" fill="none" stroke="#111" stroke-width="1.7" stroke-linejoin="miter"/>
<path d="M590.40,675.60 L594.40,679.70 L598.40,675.60" fill="none" stroke="#111" stroke-width="1.7" stroke-linejoin="miter"/>
<text x="612.50" y="661.50" font-size="6.2" text-anchor="start" font-family='"Liberation Sans", sans-serif' fill="#2B1D05" font-weight="bold" textLength="18.3" lengthAdjust="spacingAndGlyphs">12mm</text>
</svg></body></html>
